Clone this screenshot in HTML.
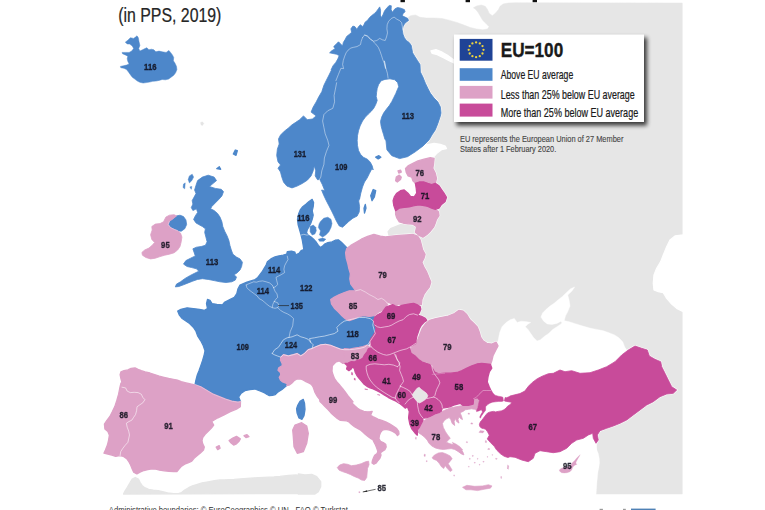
<!DOCTYPE html>
<html>
<head>
<meta charset="utf-8">
<title>Map</title>
<style>
html,body{margin:0;padding:0;background:#fff;}
body{width:765px;height:510px;overflow:hidden;position:relative;font-family:"Liberation Sans",sans-serif;}
svg{position:absolute;left:0;top:0;display:block;}
text{font-family:"Liberation Sans",sans-serif;}
.n{font-weight:bold;font-size:9.8px;fill:#10101c;text-anchor:middle;stroke:#10101c;stroke-width:0.35px;opacity:0.88;}
.lg{font-size:12.6px;fill:#1a1a1a;stroke:#1a1a1a;stroke-width:0.22px;}
.note{font-size:9.6px;fill:#444;stroke:#444;stroke-width:0.12px;}
</style>
</head>
<body>
<svg width="765" height="510" viewBox="0 0 765 510">
<defs>
<filter id="sh" x="-10%" y="-10%" width="125%" height="130%">
<feGaussianBlur stdDeviation="2"/>
</filter>
<filter id="tb" x="-5%" y="-20%" width="110%" height="140%"><feGaussianBlur stdDeviation="0.28"/></filter>
<filter id="soft" x="-2%" y="-2%" width="104%" height="104%">
<feGaussianBlur stdDeviation="0.5"/>
</filter>
</defs>
<rect x="0" y="0" width="765" height="510" fill="#ffffff"/>
<g filter="url(#soft)">
<polygon points="406,18.8 410.7,15.7 415.4,14.9 420.1,17.3 426.4,18 434.2,18 442.1,18.5 449.9,20.4 457.7,22.7 464,25.1 470.3,27.5 476.6,29 482.8,29.8 487.5,29 489.1,26.7 486,23.5 482.8,20.4 480.5,16.5 478.1,12.5 475.8,9.4 473.4,7.8 476.6,6 481.3,5 485.2,6.3 487.5,9.4 489.1,13.3 492.3,15.7 495.4,13.3 498.5,9.4 500.1,6.3 503.2,3.9 507.9,3.1 515,2.8 682.3,3 682.3,494 596,494 597,445 598,436 585,428 560,423 540,420 485,402 470,372 440,352 415,332 405,300 402,250 408,238 420,224 430,195 430,165 425,137 422,100 408,60 400,35 402,22" fill="#e6e6e6" stroke="#e6e6e6" stroke-width="0.5" stroke-linejoin="round"/>
<polygon points="388.1,231.7 390.6,228.7 395.6,226.7 400.5,224.7 408,223.8 412.9,224.2 416.7,226.7 415.4,231.2 419.2,232.9 419.2,236.7 389.3,236.7" fill="#e6e6e6" stroke="#e6e6e6" stroke-width="1.3" stroke-linejoin="round"/>
<polygon points="431,50.9 435.9,49.7 442.2,52.2 448.4,55.9 453.3,59.6 455.1,63.3 449.6,60.8 443.4,57.6 437.2,54.6 432.2,53.4" fill="#ffffff" stroke="#ffffff" stroke-width="1.3" stroke-linejoin="round"/>
<polygon points="404.2,153.5 414.2,149.2 419.2,146.8 426.6,144.8 434.1,143.5 440.3,144.3 445.2,146 446.5,148.5 441.5,149.7 436.5,153.5 432.8,157.7 424.1,159.2 414.2,162.7 406.7,166.6 399.3,167.1 396.8,159.7" fill="#ffffff" stroke="#ffffff" stroke-width="1.3" stroke-linejoin="round"/>
<polygon points="497.8,341.8 498.7,337.6 499.8,332.2 502,326.7 506.1,322.5 510.2,319.8 514.3,318.4 517.1,322.5 521.2,321.2 526.7,321.7 530.8,322.5 528,323.9 525.3,326.7 528,329.4 530.8,333.5 533.5,337.6 537.1,340.9 540.4,339.8 544.5,336.3 548.6,333.5 552.7,329.4 556.9,326.7 561,323.9 563.7,320.6 569.2,321.7 576.1,323.9 582.9,326.1 589.8,328 596.7,329.4 603.5,330.8 609,332.7 614.5,334.9 618.6,337.6 622.7,341.8 624.9,347.3 628.2,351.9 617.3,365.1 600.8,373.3 562.4,374.7 534.9,381.6 521.2,395.3 504.7,400.8 496.5,396.7 488.2,389.8 482.7,380.2 484.1,367.8 486.9,356.9 491,345.9 495.1,341.8" fill="#ffffff" stroke="#ffffff" stroke-width="0.4" stroke-linejoin="round"/>
<polygon points="501.8,395.7 506,395.7 506,400.9 512.3,401.4 512.3,405.1 506,410.3 491.4,413.5 480.9,423.9 475.7,423.9 475.7,411.4 484.6,403.5 501.8,399.9" fill="#ffffff" stroke="#ffffff" stroke-width="0.3" stroke-linejoin="round"/>
<polygon points="574.7,286.9 572,291 567.8,295.1 569.2,300.6 570,306.1 567.8,311.6 565.6,315.7 564,321.2 561.8,322.8 561,321.2 556.9,323.4 551.9,324.5 547.3,323.9 543.7,321.2 540.9,317.1 542.6,312.9 545.9,309.6 550,306.1 554.1,303.3 558.2,299.8 562.4,296.5 566.5,292.4 570.6,288.8" fill="#ffffff" stroke="#ffffff" stroke-width="0.4" stroke-linejoin="round"/>
<polygon points="683.3,235 675,236 670,240 666.7,246.7 663.3,255 660.7,261.7 656.7,268.3 654,275 653.3,283.3 654,290 658.3,291.7 663.3,292.7 666.7,298.3 671.7,304 676.7,308.3 683.3,311.7" fill="#ffffff" stroke="#ffffff" stroke-width="1.3" stroke-linejoin="round"/>
<polygon points="572.6,440 595.2,444.1 595.6,445.5 596.6,449.2 598.4,453.8 599.3,458.4 599.5,463 598.9,467.6 597.9,472.2 597.5,476.8 597,481.4 596.6,487 596.1,494.3 572.6,494.3" fill="#ffffff" stroke="#ffffff" stroke-width="0.3" stroke-linejoin="round"/>
<polygon points="123.5,494 125.1,490.9 127.5,487 129.8,483 132.2,479.1 135.3,477.5 138.4,479.1 140,482.3 142,485.4 144.7,487.7 148.6,489.3 153.3,490.1 158,490.6 162.7,491.7 167.5,492.8 173.7,493.7 178.4,493.7 181.6,492.5 184.7,490.1 188.6,487.7 192.5,485.9 197.3,484.3 202,483 208.2,481.8 214.5,480.7 220,479.9 224.1,479.9 234.1,479.4 244,478.6 253.9,477.9 263.9,477.4 273.8,476.9 280,476.4 288.7,475.4 296.1,474.9 299.9,476.1 301.1,479.9 299.9,484.8 298.1,489.8 298.6,493.5" fill="#e6e6e6" stroke="#e6e6e6" stroke-width="1.3" stroke-linejoin="round"/>
<polygon points="298.3,474 305,475 311.7,474.3 316.7,476.7 320.7,481.7 320.7,486.7 318.3,491.7 315,494 298.3,494" fill="#e6e6e6" stroke="#e6e6e6" stroke-width="1.3" stroke-linejoin="round"/>
<polygon points="125.3,42.2 127.8,40.3 130.4,37.7 133.6,38.4 135.5,37.1 137,35.8 138.3,37.7 139,41.6 139.9,45.4 138.7,48.6 139.9,51.1 142.5,49.8 145,48.6 146.9,47.7 148.9,49.8 151.4,49.2 153.9,49.8 155.9,51.8 159,51.1 162.2,51.8 166.1,52.4 168.9,50.5 170.5,52.4 172.4,54.9 173.7,57.5 173.4,60.7 175,63.2 176.5,66.4 176.9,69.6 175.6,72.8 173.7,75.3 171.1,77.2 168.6,79.1 165.4,79.8 162.2,79.5 159,80.4 155.9,81.1 152.7,81.3 149.5,82.1 146.3,82.6 143.1,83 139.9,82.3 137.4,81.1 134.8,79.1 132.3,77.2 130.4,74.7 128.5,72.1 126.6,69.6 124,68.3 120.8,67.7 120.4,66.4 123.4,65.8 126.6,65.1 129.1,63.9 127.8,61.3 127.2,58.8 127.8,56.2 125.3,54.9 122.5,53.7 122.1,52.4 125.3,52.4 129.1,52.4 131.7,51.1 133.6,48.6 132.3,46 129.7,44.1 127.2,43.9" fill="none" stroke="#ffffff" stroke-opacity="0.75" stroke-width="1.8" stroke-linejoin="round"/>
<polygon points="331,70 333,65.8 335.8,62.4 337.8,59 339.2,55.6 336.5,54.2 333,53.5 329.6,52.8 331.7,50.8 335.1,48.7 333.7,46.6 335.8,44.6 338.5,41.8 340.6,43.9 342.6,46 343.3,42.5 345.4,39.1 346.7,36.4 349.5,34.3 351.6,32.2 350.9,28.8 352.9,26.1 355,26.7 357,29.5 358.4,26.7 360.5,24.7 362.5,26.7 363.9,24.7 365.3,21.9 367.3,20.6 369.4,17.8 371.4,15.8 374.2,13.7 376.2,11.7 378.3,8.9 379.7,6.9 380.6,10.3 380.4,15.1 381.5,17.8 383.1,14.4 384.5,11 387.2,7.5 389.3,5.5 391.3,5.8 391.1,9.6 392.4,12.3 394.8,8.9 397.5,7.5 400.9,8.2 404.4,9.6 405,11.7 403,13.7 402.3,15.8 405,17.1 407.8,18.5 408.5,20.6 406.4,21.9 404.4,24 403,26.7 402.3,30.2 403,34.3 404.4,37.7 406.4,40.5 409.2,42.5 411.2,45.3 411.9,48.7 412.6,52.8 414.7,56.2 417.4,60.4 420,64.5 420.4,72 422.9,77 425.4,83.2 427.8,88.2 430.3,93.1 434.1,98.1 437.8,101.8 440.3,106.8 441,113 440.3,116.2 437.8,123.7 435.3,129.9 432.1,134.8 429,140 423.1,145.9 415.3,151.8 407.5,156.7 399.6,158.6 391.8,155.7 386.9,149.8 385.9,140 385,139.6 383.6,134.7 382.1,129.8 381.1,125.9 380.5,121.4 381.7,117.1 383.6,113.1 386.4,109.2 389.5,105.3 391.9,101.4 393.8,97.5 395.8,93.5 397.4,89.6 398.7,86.7 397.7,82.7 394.8,79.8 389.9,78.8 385,79.4 381.1,80.8 378.5,84.7 377.2,88.6 376.6,92.5 376.2,96.5 377.2,100.4 375.8,104.3 373.8,108.2 371.3,111.2 368.3,114.1 365.4,117.1 362.5,121 360.1,125.9 358.5,130.8 357.5,135.7 357.2,140.6 357.5,145.5 358.5,150.4 360.5,154.3 363.4,157.3 367.4,159.2 370.3,162.2 372.3,166.1 373.2,170 372,168.4 369.5,173.3 367,178.3 364.5,182 362.5,187 360.8,193.2 359.5,199.4 359.2,196.3 358.8,201.5 359.6,206.7 359.2,212 357.1,216.1 352.9,218.2 348.8,221.4 345.6,224.5 342.5,227.2 339.3,226 336.6,221.4 334.1,216.1 331.6,210.9 328.9,205.7 326.2,200.5 323.7,195.2 321.6,190 324.8,190.7 322.3,184.5 319.8,179.5 317.5,179.7 315.2,175.9 315.7,170.8 314.2,165.7 313.2,170.8 311.1,175.9 307.3,180.2 302.2,183.5 297.1,186.1 292,187.9 286.9,186.1 283.6,182.2 281.8,177.1 280.5,172 278,168.2 280.5,164.9 278,161.8 276.7,155.5 277.4,149.1 279.2,144 278.5,138.9 280.5,135.1 284.3,131.2 288.2,128.2 292,124.8 295.8,122.3 299.6,119.7 303.5,115.9 307.3,119.7 312.4,119 316.2,115.9 311.1,112.1 313.2,107 316.2,101.9 318.8,96.8 321.8,91.7 323.9,85.3 326.4,80.2 329,75.1 331.5,70" fill="none" stroke="#ffffff" stroke-opacity="0.75" stroke-width="2.1" stroke-linejoin="round"/>
<polygon points="373.2,189.5 375.7,190.7 374.4,196.9 372,200.7 370.7,195.7" fill="none" stroke="#ffffff" stroke-opacity="0.75" stroke-width="2.6" stroke-linejoin="round"/>
<polygon points="375.7,157.2 378.9,155.7 380.9,157.2 378.2,158.9" fill="none" stroke="#ffffff" stroke-opacity="0.75" stroke-width="2.6" stroke-linejoin="round"/>
<polygon points="364,208.1 365.3,204.4 366,208.1 364.5,213.1" fill="none" stroke="#ffffff" stroke-opacity="0.75" stroke-width="2.6" stroke-linejoin="round"/>
<polygon points="233.3,154 235.3,150 237.3,150.7 236,155.3" fill="none" stroke="#ffffff" stroke-opacity="0.75" stroke-width="2.6" stroke-linejoin="round"/>
<polygon points="216.7,168.7 219.3,166.7 220.7,169.3" fill="none" stroke="#ffffff" stroke-opacity="0.75" stroke-width="2.6" stroke-linejoin="round"/>
<polygon points="197.6,180.6 202.4,177.1 208.2,175.2 214.1,177.1 216.5,180.6 212.9,183.6 209.4,186.5 215.3,188.4 221.2,189.3 223.5,191.6 221.9,195.9 218.8,199.4 215.3,202.9 211.8,206.5 210.6,208.8 214.1,210.5 217.6,213.5 220,217.1 221.9,221.8 222.8,226.5 224.7,231.2 227.1,235.9 228.9,240.6 229.9,245.3 231.3,250 232.9,254.2 236.5,257.1 240,258.9 242.4,262.2 241.6,266.5 240,270 236.9,273.1 234.1,274.7 236.5,277.1 235.3,280.1 231.8,281.8 225.9,282.5 220,281.8 214.1,280.6 208.2,279.4 202.4,278.7 197.6,279.4 192.9,281.1 188.2,282.9 183.5,284.8 178.8,286.5 175.3,286.9 176.5,284.1 180.5,281.8 184.7,278.7 189.4,275.9 194.1,273.5 198.8,271.2 196.5,268.8 191.8,267.6 187.1,266.5 183.5,264.1 185.9,260.6 190.6,258.2 195.3,255.9 194.1,252.4 192.9,248.8 196.5,247.2 201.2,246.5 205.4,245.3 207.1,241.8 205.9,237.1 204.7,232.4 205.4,228.8 202.4,226.5 198.8,224.6 196,222.9 193.6,219.4 195.3,215.9 197.6,212.4 196.5,208.8 192.9,210.5 191.3,207.6 192.9,204.1 192.2,200.6 194.1,197.1 196,193.5 194.6,190 196,185.3" fill="none" stroke="#ffffff" stroke-opacity="0.75" stroke-width="2.1" stroke-linejoin="round"/>
<polygon points="189.4,175.9 192.2,174.2 193.6,177.1 191.8,180.6 189.4,182.9 188.2,179.4" fill="none" stroke="#ffffff" stroke-opacity="0.75" stroke-width="1.8" stroke-linejoin="round"/>
<polygon points="183.5,184.1 185.2,182.9 184.7,188.8 183.1,187.6" fill="none" stroke="#ffffff" stroke-opacity="0.75" stroke-width="1.8" stroke-linejoin="round"/>
<polygon points="189.9,186.9 191.8,186.5 191.3,189.3" fill="none" stroke="#ffffff" stroke-opacity="0.75" stroke-width="1.8" stroke-linejoin="round"/>
<polygon points="169.4,221.3 172.9,218.9 176.5,215.9 180,215.2 183.5,216.6 185.9,219.9 186.6,224.6 184.7,228.8 181.2,231.2 177.6,230.7 174.1,229.3 170.6,227.6 168.2,224.6" fill="none" stroke="#ffffff" stroke-opacity="0.75" stroke-width="2.1" stroke-linejoin="round"/>
<polygon points="312.2,199.4 313.6,202.5 313.2,206.7 312.2,210.9 313.2,215.1 312.2,219.3 310.7,223.5 309,226.6 307.3,229.7 306.5,232.9 308,235 311.1,237.1 313.6,239.2 316.3,242.3 318.4,245.4 320.5,247.5 322.6,246.1 324.7,244 327.8,242.7 332,241.9 335.2,240.2 338.3,239.8 341.4,242.3 344.6,245.4 347.7,248.6 347.3,252.7 347.9,258 349.4,263.2 350.4,268.4 352.1,273.7 351.5,278.9 352.5,284.1 355,288.3 355.6,290.8 349.3,290.8 344.4,292.6 339.4,294.5 334.4,297 330.7,299.5 331.5,304 334.4,308.2 338.2,311.9 341.9,315.7 345.6,318.9 349.3,320.6 354.3,318.9 359.3,316.4 364.2,315.7 369.2,316.4 374.2,315.7 373.5,321 374.8,325 376.1,328.3 375.5,330.9 374.4,333.5 372.9,336.1 370.9,338.8 370,342 367.8,344.8 364.1,347.3 359.2,348.5 354.2,349.2 349.2,349.7 344.2,349.7 340.5,349.2 335.6,347.3 330.6,345.3 325.6,344.3 320.7,344.8 315.7,346.8 312,348.5 308.2,349.7 304.5,353.5 300.8,355.9 297.1,353.5 293.3,354.7 288.4,355.9 283.4,354.7 280.9,357.2 280.4,360 282,363.1 282.4,365.5 278.8,367.8 278,370.2 280.4,372.5 280.8,374.9 279.2,377.3 280.4,380 282.7,382 285.9,383.1 287.5,384.3 286.7,385.5 284.3,387.5 282,389.4 279.6,391 277.3,392.5 275.3,394.5 272.5,395.3 269.4,395.7 267.1,394.5 264.7,392.9 262.4,391.8 260,391 254.8,389 249.9,389.5 244.9,390.7 241.2,393.2 238.7,396.9 240.5,401.7 238,402.2 231.8,401.2 225.6,399.2 219.4,396.7 213.2,394.2 207,390.5 200.8,386.8 195.1,384.3 195.8,380.6 197.1,375.6 199,370.7 200.8,365.7 202.5,360.7 204,355.8 205,350.8 203.3,345.8 200.8,340.8 197.6,335.9 195.8,330.9 193.3,327.2 189.6,323.5 185.9,321 182.2,318.5 179.2,314.8 177.7,311 180.9,309.3 187.1,307.8 193.3,308.6 199.5,309.3 204.5,310.3 207.5,308.6 206.5,303.6 207.5,299.4 210,300.4 212,303.6 216.9,304.3 222.4,304.8 224.4,302.4 229.3,299.9 234.3,297.4 236.8,293.7 238,288.7 240,285 243.4,283.6 246.9,282.2 251,280.9 255.1,279.5 257.8,277.4 259.9,274.7 262,272 264,268.5 266.1,265.1 267.4,261.7 270.9,258.9 275,256.9 279.1,255.8 283.2,255.2 286.7,254.1 287.3,251.6 291.5,251.1 294.9,252.1 295.6,254.8 299,253.4 301.1,250.7 303.8,249.6 303.2,245.4 302.3,240.2 301.1,235 299.6,229.7 298.1,224.5 297.5,219.3 298.6,214.1 300.2,209.9 302.7,206.7 305.9,204.2 309,201.5" fill="none" stroke="#ffffff" stroke-opacity="0.75" stroke-width="2.6" stroke-linejoin="round"/>
<polygon points="310.1,226.6 313.2,225.1 315.7,227.2 316.3,230.8 314.9,233.9 312.2,235 310.1,231.8" fill="none" stroke="#ffffff" stroke-opacity="0.75" stroke-width="1.8" stroke-linejoin="round"/>
<polygon points="320.5,221.4 323.7,218.2 327.8,217.2 331,219.3 332,223.5 331,227.6 328.9,231.8 325.8,235 322.6,237.1 319.5,235 320.5,230.8 318.4,227.6 319.1,223.9" fill="none" stroke="#ffffff" stroke-opacity="0.75" stroke-width="1.8" stroke-linejoin="round"/>
<polygon points="318.4,239.2 322.6,238.1 325.8,239.2 323.7,241.2 319.5,241.2" fill="none" stroke="#ffffff" stroke-opacity="0.75" stroke-width="1.8" stroke-linejoin="round"/>
<polygon points="297.6,405.6 300,401.4 303.3,399.4 304.5,403.1 305,409.3 304,415.6 302,419.3 299,418 297.1,413.1 296.6,408.8" fill="none" stroke="#ffffff" stroke-opacity="0.75" stroke-width="2.6" stroke-linejoin="round"/>
<polygon points="151.8,226.5 155.3,224.1 160,223.6 163.5,221.8 165.9,217.1 169.4,215.2 174.1,214.7 176.5,215.9 172.9,218.9 169.4,221.3 168.2,224.6 170.6,227.6 174.1,229.3 177.6,230.7 180.5,233.1 181.9,237.1 181.2,241.8 180,246.5 177.6,250 174.1,252.8 169.4,254.2 164.7,255.2 160,256.6 155.3,258.2 150.6,258.9 145.9,257.5 142.4,255.2 141.9,252.4 144.7,250 148.9,248.1 152.2,245.3 154.6,242.5 151.8,239.4 150.6,234.7 152.2,230" fill="none" stroke="#ffffff" stroke-opacity="0.75" stroke-width="2.1" stroke-linejoin="round"/>
<polygon points="120.1,374.6 120.9,371.9 124,370.7 127.9,369.9 131.1,368.3 135,367.9 138.1,369.4 141.3,370.7 145.2,371.9 149.9,373 154.6,374.6 159.3,376.2 164,377.3 168.7,378.5 173.4,379.3 177.4,380.1 181.3,381.7 186,382.9 190.7,384 194.6,384.8 200.8,386.8 207,390.5 213.2,394.2 219.4,396.7 225.6,399.2 231.8,401.2 238,402.2 240.5,401.7 240.3,406.6 236.5,409.1 230.3,411.6 224.1,414.8 217.9,417.8 211.7,421.5 213.7,425 211.4,428.1 208.2,431.3 205.1,434.4 202.7,437.5 202,440.7 202.7,443.8 204.3,447 203.5,450.1 200.4,452.9 197.3,455.6 194.1,458.3 191.8,461.1 188.6,462.6 184.7,464.2 181.6,466.1 179.2,468.9 176.9,471.7 173.7,471.7 169,471.3 164.3,470.8 159.6,470.2 155.7,469.2 151.8,468.9 147.8,469.7 143.9,470.5 140,472.1 136.9,473.9 133.7,472.1 132.2,468.9 130.6,465 129,461.9 126.7,458.7 123.5,456.4 119.6,455.6 115.7,456.4 111.8,455.1 107.8,454 103.9,453.2 105.4,450.1 107.4,445.1 108.6,440.1 109.4,435.2 107.9,431.4 104.9,428.9 104.4,424 106.9,420.3 109.9,416.5 112.4,411.6 114.8,406.6 116.8,400.4 118.6,394.2 119.8,388 121,383 122,382.5 120.9,378.5" fill="none" stroke="#ffffff" stroke-opacity="0.75" stroke-width="2.6" stroke-linejoin="round"/>
<polygon points="229.1,440.6 232.8,438.1 236.5,436.4 240.3,438.9 239,441.4 236.5,443.8 233.6,445.1 231.1,443.1" fill="none" stroke="#ffffff" stroke-opacity="0.75" stroke-width="2.6" stroke-linejoin="round"/>
<polygon points="244,435.7 247,434.7 249,436.6 246,437.6" fill="none" stroke="#ffffff" stroke-opacity="0.75" stroke-width="2.6" stroke-linejoin="round"/>
<polygon points="216.2,447.1 219.2,445.6 220.1,448.1 217.7,449.6" fill="none" stroke="#ffffff" stroke-opacity="0.75" stroke-width="2.6" stroke-linejoin="round"/>
<polygon points="286.7,385.5 287.5,384.3 285.9,383.1 282.7,382 280.4,380 279.2,377.3 280.8,374.9 280.4,372.5 278,370.2 278.8,367.8 282.4,365.5 282,363.1 280.4,360 280.9,357.2 283.4,354.7 288.4,355.9 293.3,354.7 297.1,353.5 300.8,355.9 304.5,353.5 308.2,349.7 312,348.5 315.7,346.8 320.7,344.8 325.6,344.3 330.6,345.3 335.6,347.3 340.5,349.2 344.2,349.7 343.8,353.5 344.7,358.4 345.5,362.2 343,363.4 339.3,360.9 335.6,362.2 332.3,365.9 332,371.2 333.1,375.1 334.7,379 337.1,382.2 339.9,385.3 342.5,388.4 345.2,392 347.7,395.5 350.4,398.6 353.1,401.8 351.4,402.4 354.5,405.5 357.6,408.2 360.8,410.2 363.9,411.4 367.1,411.8 370.2,411.6 372.2,411.4 371.4,413.3 370.6,415.3 373.3,416.9 376.5,418.4 377.8,419.1 381.8,420.4 385.7,421.9 389.6,423.8 393.5,426.2 396.7,428.5 398.7,431.4 399,434 397.5,435.6 395.6,433.2 392.7,431.4 389.6,430.1 385.7,429.3 382.5,430.1 380.5,432.5 379.4,435.6 378.9,438.7 380.5,441.4 383.3,442.6 385.7,444.2 386.2,447 384.9,449.7 382.5,451.3 380.5,452.8 381,455.2 379.9,458.3 377.8,460.7 376.3,463 373.9,464.3 372,463 372.4,460.7 373.6,457.5 374.7,455.2 377.1,453.6 377.8,451.3 376.7,448.1 375.5,445 373.9,441.9 372.4,438.7 371.8,439.2 368.6,436.9 365.5,434.5 363.1,432.2 360.8,430.2 357.6,428.4 354.5,426.7 351.4,424.3 349,422 346.7,420.8 343.5,420.5 340.4,420.4 337.3,418.4 334.1,415.7 331,412.9 327.8,409.4 324.7,406.3 322.4,403.9 320,401.6 319.6,399.2 317.6,396.9 316.1,394.5 314.9,392.2 314.1,389.8 313.3,387.5 312.2,385.5 310.6,383.9 308.2,382.7 305.9,381.6 303.5,380.2 301.2,379.2 298.8,378.8 296.5,379.2 294.5,380.4 292.9,382 291.4,383.5 289,385.1" fill="none" stroke="#ffffff" stroke-opacity="0.75" stroke-width="2.6" stroke-linejoin="round"/>
<polygon points="337.3,467.6 339.6,465.1 343.5,463.7 347.5,464.3 351.4,465.7 356.3,465.1 361.2,463.7 365.5,461.8 368.6,461.2 369,464.7 367.5,468.6 367.1,472.9 366.7,477.5 364.7,480.4 361.6,480 358.2,478 354.3,476.5 350.4,474.5 346.5,472.9 342.5,471.6 339.2,470.2" fill="none" stroke="#ffffff" stroke-opacity="0.75" stroke-width="2.1" stroke-linejoin="round"/>
<polygon points="295,425 301.7,422.7 306.7,426 308.3,433.3 306.7,443.3 303.3,451.7 297.3,453.3 294,446.7 293.3,436.7 292.7,430" fill="none" stroke="#ffffff" stroke-opacity="0.75" stroke-width="2.6" stroke-linejoin="round"/>
<polygon points="358.6,491.8 359.8,491.4 360.2,492.5 359,492.9" fill="none" stroke="#ffffff" stroke-opacity="0.75" stroke-width="1.5" stroke-linejoin="round"/>
<polygon points="354,288.3 350.8,284.1 349.8,278.9 350.4,273.7 348.8,268.4 347.7,263.2 346.2,258 345.6,252.7 346.7,248.6 350.8,245.4 356.1,242.3 361.3,239.2 367.6,236.4 373.9,234.3 380.4,236.2 385.4,236.9 391.6,236.2 399,235.4 406.5,234.9 412.7,234.4 417.6,236.2 420.1,239.9 421.4,244.9 422.6,249.8 425.1,254.3 423.9,258.5 421.9,262.3 423.9,267.2 426.8,272.2 428.8,277.2 430.8,282.1 429.3,287.1 426.3,290.8 423.9,294.5 421.9,299.5 421.4,304.5 417.6,304 412.7,303.2 407.7,304.5 402.7,305.7 399,304 395.3,305 390.3,303.2 385.4,300.8 381.6,298.3 377.9,299.5 374.2,297 369.2,294.5 365.5,292.1 360.5,289.6 355.6,290.8" fill="none" stroke="#ffffff" stroke-opacity="0.75" stroke-width="2.6" stroke-linejoin="round"/>
<polygon points="330.7,299.5 334.4,297 339.4,294.5 344.4,292.6 349.3,290.8 355.6,290.8 360.5,289.6 365.5,292.1 369.2,294.5 374.2,297 377.9,299.5 381.6,298.3 385.4,300.8 387.8,304 385.4,308.2 381.6,310.7 377.9,312.4 374.2,315.7 369.2,316.4 364.2,315.7 359.3,316.4 354.3,318.9 349.3,320.6 345.6,318.9 341.9,315.7 338.2,311.9 334.4,308.2 331.5,304" fill="none" stroke="#ffffff" stroke-opacity="0.75" stroke-width="2.6" stroke-linejoin="round"/>
<polygon points="344.2,348.6 349.7,349.1 354.4,348.2 359.1,347.4 363,346.6 367,345.2 369.8,347.5 367,351.8 364.6,354.9 363,358 360.7,359.6 357.5,360.4 354.4,362 351.3,361.6 348.1,363.2 345,363.5 344.5,358.8 343.7,354.1" fill="none" stroke="#ffffff" stroke-opacity="0.75" stroke-width="2.6" stroke-linejoin="round"/>
<polygon points="409.8,349.6 413.5,345.9 417.3,340.9 419.7,334.7 422.2,328.5 425.9,323.5 429.7,320.3 435.9,318.6 442.1,317.3 448.3,316.1 454.5,313.6 459,310.4 463.2,311.1 466.9,314.8 469.9,319.8 473.9,323.5 477.4,327.3 479.3,332.2 480.6,337.2 483.1,340.9 486.8,343.4 491.8,344.1 496.2,342.2 498,345.9 495.5,350.8 493,355.8 491.8,360.8 490.5,364.5 486.8,364 481.8,363.3 476.9,364 471.9,365.8 466.9,368.2 462,370.7 457,372.5 450.8,373.2 444.6,373.2 438.4,373.9 434.6,372 432.2,368.2 429.7,364.5 425.9,363.3 422.2,362 418.5,359.5 414.8,355.8 411,353.3" fill="none" stroke="#ffffff" stroke-opacity="0.75" stroke-width="2.6" stroke-linejoin="round"/>
<polygon points="405.5,168.4 408,165.9 412.9,163.4 417.9,160.9 424.1,159.2 430.3,157.7 434.1,158.4 433.6,163.4 432.8,168.4 435.3,173.3 436.5,178.3 435.3,183.3 431.6,184.5 427.8,183.3 424.1,182 419.2,182 415.4,183.3 412.9,180.8 411.7,177.1 408,175.8 406.2,172.1" fill="none" stroke="#ffffff" stroke-opacity="0.75" stroke-width="2.6" stroke-linejoin="round"/>
<polygon points="396.3,177.1 399.3,175.1 401.3,177.1 400.5,179.5 397.3,182 395.6,180.8" fill="none" stroke="#ffffff" stroke-opacity="0.75" stroke-width="2.6" stroke-linejoin="round"/>
<polygon points="398,170.8 400.5,170.1 401.3,172.1 398.8,173.1" fill="none" stroke="#ffffff" stroke-opacity="0.75" stroke-width="2.6" stroke-linejoin="round"/>
<polygon points="395.6,210.6 399.3,208.1 409.2,206.9 419.2,204.9 427.8,206.4 435.3,209.3 438.5,211.8 439,215.6 436.5,219.3 435.3,223 433.6,227.2 430.3,231.2 426.6,234.7 422.9,237.2 419.2,235.4 415.4,232.2 416.7,226.7 412.9,224.2 408,223.8 403,223 399.3,221.8 396.8,218 395.6,214.3" fill="none" stroke="#ffffff" stroke-opacity="0.75" stroke-width="2.6" stroke-linejoin="round"/>
<polygon points="424.7,420.3 428.4,417.8 433.4,415.3 439.6,412.8 444.6,410.3 450.8,407.8 457,406.6 463.2,405.4 468.2,405.4 473.1,404.1 473.6,398.6 477.3,398.3 479.4,400.4 478.8,402.5 478.3,405.1 477.8,407.7 476.7,410.3 474.6,409.3 471.5,408.8 468.4,409.3 465.2,409.8 463.1,411.4 460,412.7 461.4,415.7 462.5,419.6 460.6,418.6 459,416.7 458,419.6 459,423.1 456.7,421.6 455.5,418.6 454.1,421.6 454.7,425.5 452.2,423.5 450.8,419.6 449.2,417.6 446.9,418.6 444.3,420.6 442.4,423.5 443.3,427.5 445.3,431.4 447.6,434.9 450.2,438.2 448.2,440.2 446.3,442.2 449.2,443.5 453.1,444.7 457.1,446.7 460.6,449 462.9,452 463.9,454.9 461.4,453.9 458,451.4 454.7,449.4 451.2,448.6 447.3,449 443.3,449.4 439.4,449 435.5,448 432,446.1 429.2,443.5 427.3,440.2 424.7,437.3 421.8,434.9 418.8,432.9 418.2,432.4 419.4,428.4 420.8,424.5 422.7,420.6" fill="none" stroke="#ffffff" stroke-opacity="0.75" stroke-width="2.1" stroke-linejoin="round"/>
<polygon points="432,457.8 434.5,454.9 438.4,452.9 442.4,452.5 446.3,453.9 450.2,455.9 452.2,458.8 450.2,461.2 448.2,463.7 450.2,466.7 452.2,470.2 450.2,471.6 447.3,468.6 445.3,465.7 443.7,468.6 441.4,466.7 439,463.1 436.5,460.4 433.5,459.2" fill="none" stroke="#ffffff" stroke-opacity="0.75" stroke-width="1.9" stroke-linejoin="round"/>
<polygon points="452.2,442.2 456.1,444.1 460,446.7 462.9,450 461.4,450.6 458,448.6 454.1,446.1" fill="none" stroke="#ffffff" stroke-opacity="0.75" stroke-width="1.7" stroke-linejoin="round"/>
<polygon points="462.5,487.3 466.9,485.3 474.7,486.3 482.5,485.9 488.4,484.7 492,485.9 490.4,488.2 484.5,489.2 477.6,490.6 470.8,489.8 465.9,489.8" fill="none" stroke="#ffffff" stroke-opacity="0.75" stroke-width="1.9" stroke-linejoin="round"/>
<polygon points="559.3,469.9 561.1,468.5 563.4,467.6 566.2,467.2 568.9,466.7 571.2,464.4 572.6,462.6 574.5,460.7 576.8,458 579.1,455.7 580,454.7 579.5,456.1 577.7,458.9 576.3,461.6 575.8,463 576.8,464.4 575.4,464.9 574,465.8 572.6,467.6 571.7,469.9 569.9,471.8 567.1,472.7 564.3,473 561.6,472.7 559.7,471.3" fill="none" stroke="#ffffff" stroke-opacity="0.75" stroke-width="1.6" stroke-linejoin="round"/>
<polygon points="478.8,432.5 480.2,430.4 484.3,431.1 482.9,433.1" fill="none" stroke="#ffffff" stroke-opacity="0.75" stroke-width="1.5" stroke-linejoin="round"/>
<polygon points="485.1,442.3 485.5,440.2 486.7,440.9 486.3,442.9" fill="none" stroke="#ffffff" stroke-opacity="0.75" stroke-width="1.5" stroke-linejoin="round"/>
<polygon points="487.6,449.4 488.2,448.3 490,448.7 489.4,449.7" fill="none" stroke="#ffffff" stroke-opacity="0.75" stroke-width="1.5" stroke-linejoin="round"/>
<polygon points="507.3,468.2 507.6,464.7 508.8,465.9 508.4,469.4" fill="none" stroke="#ffffff" stroke-opacity="0.75" stroke-width="1.5" stroke-linejoin="round"/>
<polygon points="495.3,459.1 495.8,458.2 497.3,458.5 496.8,459.4" fill="none" stroke="#ffffff" stroke-opacity="0.75" stroke-width="1.5" stroke-linejoin="round"/>
<polygon points="500.7,478.1 500.9,476.1 501.7,476.8 501.4,478.8" fill="none" stroke="#ffffff" stroke-opacity="0.75" stroke-width="1.5" stroke-linejoin="round"/>
<polygon points="467.8,414.1 468.3,412.9 469.8,413.3 469.3,414.5" fill="none" stroke="#ffffff" stroke-opacity="0.75" stroke-width="1.5" stroke-linejoin="round"/>
<polygon points="470.6,423.9 471.2,422.7 472.9,423.1 472.4,424.3" fill="none" stroke="#ffffff" stroke-opacity="0.75" stroke-width="1.5" stroke-linejoin="round"/>
<polygon points="466.1,442.5 466.5,441.4 467.6,441.8 467.3,442.9" fill="none" stroke="#ffffff" stroke-opacity="0.75" stroke-width="1.5" stroke-linejoin="round"/>
<polygon points="415.3,438.9 415.6,436.9 416.5,437.5 416.2,439.6" fill="none" stroke="#ffffff" stroke-opacity="0.75" stroke-width="1.5" stroke-linejoin="round"/>
<polygon points="423.9,456 424.3,453.9 425.5,454.6 425.1,456.7" fill="none" stroke="#ffffff" stroke-opacity="0.75" stroke-width="1.5" stroke-linejoin="round"/>
<polygon points="426.1,461.6 426.4,460.4 427.3,460.8 427,462" fill="none" stroke="#ffffff" stroke-opacity="0.75" stroke-width="1.5" stroke-linejoin="round"/>
<polygon points="472,456.2 472.4,455.3 473.5,455.6 473.1,456.5" fill="none" stroke="#ffffff" stroke-opacity="0.75" stroke-width="1.5" stroke-linejoin="round"/>
<polygon points="477.1,459.1 477.4,458.2 478.2,458.5 477.9,459.4" fill="none" stroke="#ffffff" stroke-opacity="0.75" stroke-width="1.5" stroke-linejoin="round"/>
<polygon points="473.9,463 474.3,462.3 475.5,462.5 475.1,463.2" fill="none" stroke="#ffffff" stroke-opacity="0.75" stroke-width="1.5" stroke-linejoin="round"/>
<polygon points="479,465 479.3,464.2 480.2,464.5 479.9,465.2" fill="none" stroke="#ffffff" stroke-opacity="0.75" stroke-width="1.5" stroke-linejoin="round"/>
<polygon points="469.2,459.2 469.5,458 470.4,458.4 470.1,459.6" fill="none" stroke="#ffffff" stroke-opacity="0.75" stroke-width="1.5" stroke-linejoin="round"/>
<polygon points="482.7,462 483.1,461.3 484.3,461.5 483.9,462.3" fill="none" stroke="#ffffff" stroke-opacity="0.75" stroke-width="1.5" stroke-linejoin="round"/>
<polygon points="468.2,466.9 468.5,466.2 469.4,466.4 469.1,467.2" fill="none" stroke="#ffffff" stroke-opacity="0.75" stroke-width="1.5" stroke-linejoin="round"/>
<polygon points="486.9,457.1 487.2,456.4 488,456.6 487.7,457.4" fill="none" stroke="#ffffff" stroke-opacity="0.75" stroke-width="1.5" stroke-linejoin="round"/>
<polygon points="453.6,475.9 453.9,474.7 454.6,475.1 454.4,476.3" fill="none" stroke="#ffffff" stroke-opacity="0.75" stroke-width="1.5" stroke-linejoin="round"/>
<polygon points="491.8,455.1 492.1,454.4 492.9,454.7 492.6,455.4" fill="none" stroke="#ffffff" stroke-opacity="0.75" stroke-width="1.5" stroke-linejoin="round"/>
<polygon points="394.3,196.9 396.8,193.2 400.5,190.7 404.2,190 408,193.2 410.5,196.4 414.2,196.9 416.7,193.2 416.2,188.2 415.4,183.3 419.2,182 424.1,182 427.8,183.3 431.6,184.5 435.3,183.3 439,185.8 441.5,189.5 444,193.2 446.5,197.4 445.2,201.4 441.5,204.4 439,208.1 435.3,209.3 431.6,208.1 427.8,206.4 424.1,205.6 419.2,204.9 414.2,205.6 409.2,206.9 404.2,207.4 399.3,208.1 395.6,210.6 393.8,205.6 393.1,200.7" fill="none" stroke="#ffffff" stroke-opacity="0.75" stroke-width="2.6" stroke-linejoin="round"/>
<polygon points="373.5,321 374.8,317.1 378.1,314.5 382,312.5 384,309.9 386,307.2 389.3,305.9 392.6,304.6 395.2,305.9 399.1,306.6 401.8,305.3 405.7,304.6 409.6,303.9 413.6,303.3 416.9,304.6 420.2,306.6 420.8,309.2 419.5,312.5 417.5,315.1 413.6,313.8 409.6,314.5 406.4,316.4 403.1,319.7 399.1,321 395.2,323 391.9,325 388.6,326.3 384.7,326.9 380.7,327.6 377.5,326.9 374.8,325" fill="none" stroke="#ffffff" stroke-opacity="0.75" stroke-width="2.6" stroke-linejoin="round"/>
<polygon points="374.8,325 377.5,326.9 380.7,327.6 384.7,326.9 388.6,326.3 391.9,325 395.2,323 399.1,321 403.1,319.7 406.4,316.4 409.6,314.5 413.6,313.8 417.5,315.1 421.5,316.4 425.4,318.4 426.7,320.4 424.1,322.3 421.5,325 419.5,328.3 418.2,332.2 416.9,336.1 416.2,339.4 415.6,343.4 412.9,345.3 409.6,347.3 406.4,348.9 403.1,349.7 399.8,350.6 396.5,351.9 393.2,353.2 389.9,354.5 386.6,355.2 383.4,354.5 380.1,353.2 377.5,351.9 374.8,349.9 372.2,348 370.5,345.3 370,342 370.9,338.8 372.9,336.1 374.4,333.5 375.5,330.9 376.1,328.3" fill="none" stroke="#ffffff" stroke-opacity="0.75" stroke-width="2.6" stroke-linejoin="round"/>
<polygon points="368.5,348.6 370.9,347.8 374,350.2 377.2,352.5 381.1,354.1 385.8,355.4 390.5,354.9 394.4,353.8 394.9,348.4 402.4,345.9 409.3,347.6 411,353.3 414.8,355.8 418.5,359.5 422.2,362 425.9,363.3 429.7,364.5 432.2,368.2 434.6,372 438.4,373.9 444.6,373.2 450.8,373.2 457,372.5 462,370.7 466.9,368.2 471.9,365.8 476.9,364 481.8,363.3 486.8,364 490.5,364.5 491.8,368.2 489.3,372 488,376.9 487.3,381.9 489.3,386.9 490.9,390.5 486.2,390.5 483,390.5 480.9,392.6 478.8,394.6 477.3,396.2 475.7,397.8 473.6,398.6 473.1,404.1 468.2,405.4 463.2,405.4 460,403.3 457.6,404.1 453.7,405.2 449.8,406.8 445.9,407.7 442.4,408 441.2,411.2 438.8,412.7 435.7,413.5 432.5,415.1 429.4,416.7 426.3,417.8 423.1,418.2 422.4,421.4 420.8,424.5 419.2,427.6 417.6,430 417.3,435.2 414.8,432.7 411.8,428.9 409.8,424 408.6,417.8 409.3,411.6 407.3,406.6 405.4,408.2 402.3,405.6 399.1,403.1 396,401.2 392.1,399.3 388.1,397.3 384.2,394.9 380.3,392.5 376.4,390.5 373.2,388.9 370.1,387.8 367,386.3 363.8,383.9 361.5,381.1 359.1,378.4 356.8,375.3 355.2,372.2 354.4,369 352.8,366.7 351.3,369 348.9,370.6 346.6,369 347.4,365.9 345,363.5 348.1,363.2 351.3,361.6 354.4,362 357.5,360.4 360.7,359.6 363,358 364.6,354.9 367,351.8" fill="none" stroke="#ffffff" stroke-opacity="0.75" stroke-width="2.6" stroke-linejoin="round"/>
<polygon points="351.5,372.3 352.6,372.8 352.6,375.1 351.5,374.7" fill="none" stroke="#ffffff" stroke-opacity="0.75" stroke-width="1.6" stroke-linejoin="round"/>
<polygon points="354.2,378.1 355.3,378.6 355.3,380.3 354.2,379.8" fill="none" stroke="#ffffff" stroke-opacity="0.75" stroke-width="1.6" stroke-linejoin="round"/>
<polygon points="364.8,388.8 367.6,389.3 367.6,389.7 364.8,389.3" fill="none" stroke="#ffffff" stroke-opacity="0.75" stroke-width="1.6" stroke-linejoin="round"/>
<polygon points="377.5,394.5 380,395 380,395.3 377.5,394.8" fill="none" stroke="#ffffff" stroke-opacity="0.75" stroke-width="1.6" stroke-linejoin="round"/>
<polygon points="473.6,398.6 475.7,397.8 477.3,396.2 478.8,394.6 480.9,392.6 483,390.5 486.2,390.5 490.3,390.5 491.4,390.5 492.9,393.1 495,395.2 498.2,396.2 501.3,396.7 502.9,397.3 503.4,400.9 501.8,401.4 498.7,401.4 495.6,401.8 492.4,402.2 489.8,403.2 487.7,404.6 485.6,406.7 485.6,410.3 483.5,412.9 481.4,416.1 480.4,418.2 479.7,417.1 480.9,414.5 482.5,411.9 481.4,409.8 478.8,410.9 476.5,411.6 476.7,410.3 477.8,407.7 478.3,405.1 478.8,402.5 479.4,400.4 477.3,398.3" fill="none" stroke="#ffffff" stroke-opacity="0.75" stroke-width="1.8" stroke-linejoin="round"/>
<polygon points="505.2,397.6 504.5,400.9 506.5,401.4 510.2,402 511.8,402.5 510.2,404.6 507.6,406.2 506,408.2 503.9,409.8 501.3,410.9 498.2,411.4 495.6,411.9 493.5,411.4 490.3,411.9 487.7,412.9 486.2,414.5 484.6,416.6 483,418.7 481.4,420.8 480.4,421.8 479.4,424.5 479.9,426.5 481.4,428.1 483.5,428.6 485.6,429.2 487.2,431.3 488.2,433 489.3,435.2 487.3,438.9 490.5,442.6 494.2,446.3 496.7,450.1 500.5,453.8 504.2,456.3 507.9,457.5 510,456.7 515,457.3 521.7,460 528.3,461.7 533.3,458.3 535,453.3 540,450.7 546.7,451.7 553.3,452.7 560,451.7 566.7,448.3 571.7,443.3 576.7,440 583.3,438.3 588.3,435 592.7,433.3 593.3,438.3 596,443.3 598.3,440 597.3,435 600,430.7 606.7,428.3 613.3,426 620,423.3 626.7,420 633.3,415 640,410 646.7,405 653.3,401.7 660,396.7 666.7,394 673.3,393.3 676.7,390 671.7,386.7 668.3,380 665,373.3 661.7,366.7 660.7,361.7 655,359.3 649.3,356 647.3,350 641.7,348.3 635,346 628.3,350 621.7,355 615,361.7 606.7,366.7 598.3,370 590,372.7 580,373.3 571.7,370.7 565,371.7 560,370 553.3,373.3 548.4,373.7 542.2,376.2 537.3,378.7 532.3,382.4 528.6,386.1 524.8,391.1 519.9,393.6 514.9,394.8 509.9,396.1 509.2,396.7 506.5,397.8" fill="none" stroke="#ffffff" stroke-opacity="0.75" stroke-width="2.1" stroke-linejoin="round"/>
<polygon points="125.3,42.2 127.8,40.3 130.4,37.7 133.6,38.4 135.5,37.1 137,35.8 138.3,37.7 139,41.6 139.9,45.4 138.7,48.6 139.9,51.1 142.5,49.8 145,48.6 146.9,47.7 148.9,49.8 151.4,49.2 153.9,49.8 155.9,51.8 159,51.1 162.2,51.8 166.1,52.4 168.9,50.5 170.5,52.4 172.4,54.9 173.7,57.5 173.4,60.7 175,63.2 176.5,66.4 176.9,69.6 175.6,72.8 173.7,75.3 171.1,77.2 168.6,79.1 165.4,79.8 162.2,79.5 159,80.4 155.9,81.1 152.7,81.3 149.5,82.1 146.3,82.6 143.1,83 139.9,82.3 137.4,81.1 134.8,79.1 132.3,77.2 130.4,74.7 128.5,72.1 126.6,69.6 124,68.3 120.8,67.7 120.4,66.4 123.4,65.8 126.6,65.1 129.1,63.9 127.8,61.3 127.2,58.8 127.8,56.2 125.3,54.9 122.5,53.7 122.1,52.4 125.3,52.4 129.1,52.4 131.7,51.1 133.6,48.6 132.3,46 129.7,44.1 127.2,43.9" fill="#4d87ca" stroke="#4d87ca" stroke-width="0.5" stroke-linejoin="round"/>
<polygon points="331,70 333,65.8 335.8,62.4 337.8,59 339.2,55.6 336.5,54.2 333,53.5 329.6,52.8 331.7,50.8 335.1,48.7 333.7,46.6 335.8,44.6 338.5,41.8 340.6,43.9 342.6,46 343.3,42.5 345.4,39.1 346.7,36.4 349.5,34.3 351.6,32.2 350.9,28.8 352.9,26.1 355,26.7 357,29.5 358.4,26.7 360.5,24.7 362.5,26.7 363.9,24.7 365.3,21.9 367.3,20.6 369.4,17.8 371.4,15.8 374.2,13.7 376.2,11.7 378.3,8.9 379.7,6.9 380.6,10.3 380.4,15.1 381.5,17.8 383.1,14.4 384.5,11 387.2,7.5 389.3,5.5 391.3,5.8 391.1,9.6 392.4,12.3 394.8,8.9 397.5,7.5 400.9,8.2 404.4,9.6 405,11.7 403,13.7 402.3,15.8 405,17.1 407.8,18.5 408.5,20.6 406.4,21.9 404.4,24 403,26.7 402.3,30.2 403,34.3 404.4,37.7 406.4,40.5 409.2,42.5 411.2,45.3 411.9,48.7 412.6,52.8 414.7,56.2 417.4,60.4 420,64.5 420.4,72 422.9,77 425.4,83.2 427.8,88.2 430.3,93.1 434.1,98.1 437.8,101.8 440.3,106.8 441,113 440.3,116.2 437.8,123.7 435.3,129.9 432.1,134.8 429,140 423.1,145.9 415.3,151.8 407.5,156.7 399.6,158.6 391.8,155.7 386.9,149.8 385.9,140 385,139.6 383.6,134.7 382.1,129.8 381.1,125.9 380.5,121.4 381.7,117.1 383.6,113.1 386.4,109.2 389.5,105.3 391.9,101.4 393.8,97.5 395.8,93.5 397.4,89.6 398.7,86.7 397.7,82.7 394.8,79.8 389.9,78.8 385,79.4 381.1,80.8 378.5,84.7 377.2,88.6 376.6,92.5 376.2,96.5 377.2,100.4 375.8,104.3 373.8,108.2 371.3,111.2 368.3,114.1 365.4,117.1 362.5,121 360.1,125.9 358.5,130.8 357.5,135.7 357.2,140.6 357.5,145.5 358.5,150.4 360.5,154.3 363.4,157.3 367.4,159.2 370.3,162.2 372.3,166.1 373.2,170 372,168.4 369.5,173.3 367,178.3 364.5,182 362.5,187 360.8,193.2 359.5,199.4 359.2,196.3 358.8,201.5 359.6,206.7 359.2,212 357.1,216.1 352.9,218.2 348.8,221.4 345.6,224.5 342.5,227.2 339.3,226 336.6,221.4 334.1,216.1 331.6,210.9 328.9,205.7 326.2,200.5 323.7,195.2 321.6,190 324.8,190.7 322.3,184.5 319.8,179.5 317.5,179.7 315.2,175.9 315.7,170.8 314.2,165.7 313.2,170.8 311.1,175.9 307.3,180.2 302.2,183.5 297.1,186.1 292,187.9 286.9,186.1 283.6,182.2 281.8,177.1 280.5,172 278,168.2 280.5,164.9 278,161.8 276.7,155.5 277.4,149.1 279.2,144 278.5,138.9 280.5,135.1 284.3,131.2 288.2,128.2 292,124.8 295.8,122.3 299.6,119.7 303.5,115.9 307.3,119.7 312.4,119 316.2,115.9 311.1,112.1 313.2,107 316.2,101.9 318.8,96.8 321.8,91.7 323.9,85.3 326.4,80.2 329,75.1 331.5,70" fill="#4d87ca" stroke="#4d87ca" stroke-width="0.8" stroke-linejoin="round"/>
<polygon points="373.2,189.5 375.7,190.7 374.4,196.9 372,200.7 370.7,195.7" fill="#4d87ca" stroke="#4d87ca" stroke-width="1.3" stroke-linejoin="round"/>
<polygon points="375.7,157.2 378.9,155.7 380.9,157.2 378.2,158.9" fill="#4d87ca" stroke="#4d87ca" stroke-width="1.3" stroke-linejoin="round"/>
<polygon points="364,208.1 365.3,204.4 366,208.1 364.5,213.1" fill="#4d87ca" stroke="#4d87ca" stroke-width="1.3" stroke-linejoin="round"/>
<polygon points="200.5,122.5 202.5,121.8 203.8,123.5 202.5,125.5 201,125" fill="#e4e4e4" stroke="#e4e4e4" stroke-width="0.3" stroke-linejoin="round"/>
<polygon points="233.3,154 235.3,150 237.3,150.7 236,155.3" fill="#4d87ca" stroke="#4d87ca" stroke-width="1.3" stroke-linejoin="round"/>
<polygon points="216.7,168.7 219.3,166.7 220.7,169.3" fill="#4d87ca" stroke="#4d87ca" stroke-width="1.3" stroke-linejoin="round"/>
<polygon points="197.6,180.6 202.4,177.1 208.2,175.2 214.1,177.1 216.5,180.6 212.9,183.6 209.4,186.5 215.3,188.4 221.2,189.3 223.5,191.6 221.9,195.9 218.8,199.4 215.3,202.9 211.8,206.5 210.6,208.8 214.1,210.5 217.6,213.5 220,217.1 221.9,221.8 222.8,226.5 224.7,231.2 227.1,235.9 228.9,240.6 229.9,245.3 231.3,250 232.9,254.2 236.5,257.1 240,258.9 242.4,262.2 241.6,266.5 240,270 236.9,273.1 234.1,274.7 236.5,277.1 235.3,280.1 231.8,281.8 225.9,282.5 220,281.8 214.1,280.6 208.2,279.4 202.4,278.7 197.6,279.4 192.9,281.1 188.2,282.9 183.5,284.8 178.8,286.5 175.3,286.9 176.5,284.1 180.5,281.8 184.7,278.7 189.4,275.9 194.1,273.5 198.8,271.2 196.5,268.8 191.8,267.6 187.1,266.5 183.5,264.1 185.9,260.6 190.6,258.2 195.3,255.9 194.1,252.4 192.9,248.8 196.5,247.2 201.2,246.5 205.4,245.3 207.1,241.8 205.9,237.1 204.7,232.4 205.4,228.8 202.4,226.5 198.8,224.6 196,222.9 193.6,219.4 195.3,215.9 197.6,212.4 196.5,208.8 192.9,210.5 191.3,207.6 192.9,204.1 192.2,200.6 194.1,197.1 196,193.5 194.6,190 196,185.3" fill="#4d87ca" stroke="#4d87ca" stroke-width="0.8" stroke-linejoin="round"/>
<polygon points="189.4,175.9 192.2,174.2 193.6,177.1 191.8,180.6 189.4,182.9 188.2,179.4" fill="#4d87ca" stroke="#4d87ca" stroke-width="0.5" stroke-linejoin="round"/>
<polygon points="183.5,184.1 185.2,182.9 184.7,188.8 183.1,187.6" fill="#4d87ca" stroke="#4d87ca" stroke-width="0.5" stroke-linejoin="round"/>
<polygon points="189.9,186.9 191.8,186.5 191.3,189.3" fill="#4d87ca" stroke="#4d87ca" stroke-width="0.5" stroke-linejoin="round"/>
<polygon points="169.4,221.3 172.9,218.9 176.5,215.9 180,215.2 183.5,216.6 185.9,219.9 186.6,224.6 184.7,228.8 181.2,231.2 177.6,230.7 174.1,229.3 170.6,227.6 168.2,224.6" fill="#4d87ca" stroke="#4d87ca" stroke-width="0.8" stroke-linejoin="round"/>
<polygon points="312.2,199.4 313.6,202.5 313.2,206.7 312.2,210.9 313.2,215.1 312.2,219.3 310.7,223.5 309,226.6 307.3,229.7 306.5,232.9 308,235 311.1,237.1 313.6,239.2 316.3,242.3 318.4,245.4 320.5,247.5 322.6,246.1 324.7,244 327.8,242.7 332,241.9 335.2,240.2 338.3,239.8 341.4,242.3 344.6,245.4 347.7,248.6 347.3,252.7 347.9,258 349.4,263.2 350.4,268.4 352.1,273.7 351.5,278.9 352.5,284.1 355,288.3 355.6,290.8 349.3,290.8 344.4,292.6 339.4,294.5 334.4,297 330.7,299.5 331.5,304 334.4,308.2 338.2,311.9 341.9,315.7 345.6,318.9 349.3,320.6 354.3,318.9 359.3,316.4 364.2,315.7 369.2,316.4 374.2,315.7 373.5,321 374.8,325 376.1,328.3 375.5,330.9 374.4,333.5 372.9,336.1 370.9,338.8 370,342 367.8,344.8 364.1,347.3 359.2,348.5 354.2,349.2 349.2,349.7 344.2,349.7 340.5,349.2 335.6,347.3 330.6,345.3 325.6,344.3 320.7,344.8 315.7,346.8 312,348.5 308.2,349.7 304.5,353.5 300.8,355.9 297.1,353.5 293.3,354.7 288.4,355.9 283.4,354.7 280.9,357.2 280.4,360 282,363.1 282.4,365.5 278.8,367.8 278,370.2 280.4,372.5 280.8,374.9 279.2,377.3 280.4,380 282.7,382 285.9,383.1 287.5,384.3 286.7,385.5 284.3,387.5 282,389.4 279.6,391 277.3,392.5 275.3,394.5 272.5,395.3 269.4,395.7 267.1,394.5 264.7,392.9 262.4,391.8 260,391 254.8,389 249.9,389.5 244.9,390.7 241.2,393.2 238.7,396.9 240.5,401.7 238,402.2 231.8,401.2 225.6,399.2 219.4,396.7 213.2,394.2 207,390.5 200.8,386.8 195.1,384.3 195.8,380.6 197.1,375.6 199,370.7 200.8,365.7 202.5,360.7 204,355.8 205,350.8 203.3,345.8 200.8,340.8 197.6,335.9 195.8,330.9 193.3,327.2 189.6,323.5 185.9,321 182.2,318.5 179.2,314.8 177.7,311 180.9,309.3 187.1,307.8 193.3,308.6 199.5,309.3 204.5,310.3 207.5,308.6 206.5,303.6 207.5,299.4 210,300.4 212,303.6 216.9,304.3 222.4,304.8 224.4,302.4 229.3,299.9 234.3,297.4 236.8,293.7 238,288.7 240,285 243.4,283.6 246.9,282.2 251,280.9 255.1,279.5 257.8,277.4 259.9,274.7 262,272 264,268.5 266.1,265.1 267.4,261.7 270.9,258.9 275,256.9 279.1,255.8 283.2,255.2 286.7,254.1 287.3,251.6 291.5,251.1 294.9,252.1 295.6,254.8 299,253.4 301.1,250.7 303.8,249.6 303.2,245.4 302.3,240.2 301.1,235 299.6,229.7 298.1,224.5 297.5,219.3 298.6,214.1 300.2,209.9 302.7,206.7 305.9,204.2 309,201.5" fill="#4d87ca" stroke="#4d87ca" stroke-width="1.3" stroke-linejoin="round"/>
<polygon points="310.1,226.6 313.2,225.1 315.7,227.2 316.3,230.8 314.9,233.9 312.2,235 310.1,231.8" fill="#4d87ca" stroke="#4d87ca" stroke-width="0.5" stroke-linejoin="round"/>
<polygon points="320.5,221.4 323.7,218.2 327.8,217.2 331,219.3 332,223.5 331,227.6 328.9,231.8 325.8,235 322.6,237.1 319.5,235 320.5,230.8 318.4,227.6 319.1,223.9" fill="#4d87ca" stroke="#4d87ca" stroke-width="0.5" stroke-linejoin="round"/>
<polygon points="318.4,239.2 322.6,238.1 325.8,239.2 323.7,241.2 319.5,241.2" fill="#4d87ca" stroke="#4d87ca" stroke-width="0.5" stroke-linejoin="round"/>
<polygon points="297.6,405.6 300,401.4 303.3,399.4 304.5,403.1 305,409.3 304,415.6 302,419.3 299,418 297.1,413.1 296.6,408.8" fill="#4d87ca" stroke="#4d87ca" stroke-width="1.3" stroke-linejoin="round"/>
<polygon points="151.8,226.5 155.3,224.1 160,223.6 163.5,221.8 165.9,217.1 169.4,215.2 174.1,214.7 176.5,215.9 172.9,218.9 169.4,221.3 168.2,224.6 170.6,227.6 174.1,229.3 177.6,230.7 180.5,233.1 181.9,237.1 181.2,241.8 180,246.5 177.6,250 174.1,252.8 169.4,254.2 164.7,255.2 160,256.6 155.3,258.2 150.6,258.9 145.9,257.5 142.4,255.2 141.9,252.4 144.7,250 148.9,248.1 152.2,245.3 154.6,242.5 151.8,239.4 150.6,234.7 152.2,230" fill="#dda1c6" stroke="#dda1c6" stroke-width="0.8" stroke-linejoin="round"/>
<polygon points="120.1,374.6 120.9,371.9 124,370.7 127.9,369.9 131.1,368.3 135,367.9 138.1,369.4 141.3,370.7 145.2,371.9 149.9,373 154.6,374.6 159.3,376.2 164,377.3 168.7,378.5 173.4,379.3 177.4,380.1 181.3,381.7 186,382.9 190.7,384 194.6,384.8 200.8,386.8 207,390.5 213.2,394.2 219.4,396.7 225.6,399.2 231.8,401.2 238,402.2 240.5,401.7 240.3,406.6 236.5,409.1 230.3,411.6 224.1,414.8 217.9,417.8 211.7,421.5 213.7,425 211.4,428.1 208.2,431.3 205.1,434.4 202.7,437.5 202,440.7 202.7,443.8 204.3,447 203.5,450.1 200.4,452.9 197.3,455.6 194.1,458.3 191.8,461.1 188.6,462.6 184.7,464.2 181.6,466.1 179.2,468.9 176.9,471.7 173.7,471.7 169,471.3 164.3,470.8 159.6,470.2 155.7,469.2 151.8,468.9 147.8,469.7 143.9,470.5 140,472.1 136.9,473.9 133.7,472.1 132.2,468.9 130.6,465 129,461.9 126.7,458.7 123.5,456.4 119.6,455.6 115.7,456.4 111.8,455.1 107.8,454 103.9,453.2 105.4,450.1 107.4,445.1 108.6,440.1 109.4,435.2 107.9,431.4 104.9,428.9 104.4,424 106.9,420.3 109.9,416.5 112.4,411.6 114.8,406.6 116.8,400.4 118.6,394.2 119.8,388 121,383 122,382.5 120.9,378.5" fill="#dda1c6" stroke="#dda1c6" stroke-width="1.3" stroke-linejoin="round"/>
<polygon points="229.1,440.6 232.8,438.1 236.5,436.4 240.3,438.9 239,441.4 236.5,443.8 233.6,445.1 231.1,443.1" fill="#dda1c6" stroke="#dda1c6" stroke-width="1.3" stroke-linejoin="round"/>
<polygon points="244,435.7 247,434.7 249,436.6 246,437.6" fill="#dda1c6" stroke="#dda1c6" stroke-width="1.3" stroke-linejoin="round"/>
<polygon points="216.2,447.1 219.2,445.6 220.1,448.1 217.7,449.6" fill="#dda1c6" stroke="#dda1c6" stroke-width="1.3" stroke-linejoin="round"/>
<polygon points="286.7,385.5 287.5,384.3 285.9,383.1 282.7,382 280.4,380 279.2,377.3 280.8,374.9 280.4,372.5 278,370.2 278.8,367.8 282.4,365.5 282,363.1 280.4,360 280.9,357.2 283.4,354.7 288.4,355.9 293.3,354.7 297.1,353.5 300.8,355.9 304.5,353.5 308.2,349.7 312,348.5 315.7,346.8 320.7,344.8 325.6,344.3 330.6,345.3 335.6,347.3 340.5,349.2 344.2,349.7 343.8,353.5 344.7,358.4 345.5,362.2 343,363.4 339.3,360.9 335.6,362.2 332.3,365.9 332,371.2 333.1,375.1 334.7,379 337.1,382.2 339.9,385.3 342.5,388.4 345.2,392 347.7,395.5 350.4,398.6 353.1,401.8 351.4,402.4 354.5,405.5 357.6,408.2 360.8,410.2 363.9,411.4 367.1,411.8 370.2,411.6 372.2,411.4 371.4,413.3 370.6,415.3 373.3,416.9 376.5,418.4 377.8,419.1 381.8,420.4 385.7,421.9 389.6,423.8 393.5,426.2 396.7,428.5 398.7,431.4 399,434 397.5,435.6 395.6,433.2 392.7,431.4 389.6,430.1 385.7,429.3 382.5,430.1 380.5,432.5 379.4,435.6 378.9,438.7 380.5,441.4 383.3,442.6 385.7,444.2 386.2,447 384.9,449.7 382.5,451.3 380.5,452.8 381,455.2 379.9,458.3 377.8,460.7 376.3,463 373.9,464.3 372,463 372.4,460.7 373.6,457.5 374.7,455.2 377.1,453.6 377.8,451.3 376.7,448.1 375.5,445 373.9,441.9 372.4,438.7 371.8,439.2 368.6,436.9 365.5,434.5 363.1,432.2 360.8,430.2 357.6,428.4 354.5,426.7 351.4,424.3 349,422 346.7,420.8 343.5,420.5 340.4,420.4 337.3,418.4 334.1,415.7 331,412.9 327.8,409.4 324.7,406.3 322.4,403.9 320,401.6 319.6,399.2 317.6,396.9 316.1,394.5 314.9,392.2 314.1,389.8 313.3,387.5 312.2,385.5 310.6,383.9 308.2,382.7 305.9,381.6 303.5,380.2 301.2,379.2 298.8,378.8 296.5,379.2 294.5,380.4 292.9,382 291.4,383.5 289,385.1" fill="#dda1c6" stroke="#dda1c6" stroke-width="1.3" stroke-linejoin="round"/>
<polygon points="337.3,467.6 339.6,465.1 343.5,463.7 347.5,464.3 351.4,465.7 356.3,465.1 361.2,463.7 365.5,461.8 368.6,461.2 369,464.7 367.5,468.6 367.1,472.9 366.7,477.5 364.7,480.4 361.6,480 358.2,478 354.3,476.5 350.4,474.5 346.5,472.9 342.5,471.6 339.2,470.2" fill="#dda1c6" stroke="#dda1c6" stroke-width="0.8" stroke-linejoin="round"/>
<polygon points="295,425 301.7,422.7 306.7,426 308.3,433.3 306.7,443.3 303.3,451.7 297.3,453.3 294,446.7 293.3,436.7 292.7,430" fill="#dda1c6" stroke="#dda1c6" stroke-width="1.3" stroke-linejoin="round"/>
<polygon points="358.6,491.8 359.8,491.4 360.2,492.5 359,492.9" fill="#dda1c6" stroke="#dda1c6" stroke-width="0.2" stroke-linejoin="round"/>
<polygon points="354,288.3 350.8,284.1 349.8,278.9 350.4,273.7 348.8,268.4 347.7,263.2 346.2,258 345.6,252.7 346.7,248.6 350.8,245.4 356.1,242.3 361.3,239.2 367.6,236.4 373.9,234.3 380.4,236.2 385.4,236.9 391.6,236.2 399,235.4 406.5,234.9 412.7,234.4 417.6,236.2 420.1,239.9 421.4,244.9 422.6,249.8 425.1,254.3 423.9,258.5 421.9,262.3 423.9,267.2 426.8,272.2 428.8,277.2 430.8,282.1 429.3,287.1 426.3,290.8 423.9,294.5 421.9,299.5 421.4,304.5 417.6,304 412.7,303.2 407.7,304.5 402.7,305.7 399,304 395.3,305 390.3,303.2 385.4,300.8 381.6,298.3 377.9,299.5 374.2,297 369.2,294.5 365.5,292.1 360.5,289.6 355.6,290.8" fill="#dda1c6" stroke="#dda1c6" stroke-width="1.3" stroke-linejoin="round"/>
<polygon points="330.7,299.5 334.4,297 339.4,294.5 344.4,292.6 349.3,290.8 355.6,290.8 360.5,289.6 365.5,292.1 369.2,294.5 374.2,297 377.9,299.5 381.6,298.3 385.4,300.8 387.8,304 385.4,308.2 381.6,310.7 377.9,312.4 374.2,315.7 369.2,316.4 364.2,315.7 359.3,316.4 354.3,318.9 349.3,320.6 345.6,318.9 341.9,315.7 338.2,311.9 334.4,308.2 331.5,304" fill="#dda1c6" stroke="#dda1c6" stroke-width="1.3" stroke-linejoin="round"/>
<polygon points="344.2,348.6 349.7,349.1 354.4,348.2 359.1,347.4 363,346.6 367,345.2 369.8,347.5 367,351.8 364.6,354.9 363,358 360.7,359.6 357.5,360.4 354.4,362 351.3,361.6 348.1,363.2 345,363.5 344.5,358.8 343.7,354.1" fill="#dda1c6" stroke="#dda1c6" stroke-width="1.3" stroke-linejoin="round"/>
<polygon points="409.8,349.6 413.5,345.9 417.3,340.9 419.7,334.7 422.2,328.5 425.9,323.5 429.7,320.3 435.9,318.6 442.1,317.3 448.3,316.1 454.5,313.6 459,310.4 463.2,311.1 466.9,314.8 469.9,319.8 473.9,323.5 477.4,327.3 479.3,332.2 480.6,337.2 483.1,340.9 486.8,343.4 491.8,344.1 496.2,342.2 498,345.9 495.5,350.8 493,355.8 491.8,360.8 490.5,364.5 486.8,364 481.8,363.3 476.9,364 471.9,365.8 466.9,368.2 462,370.7 457,372.5 450.8,373.2 444.6,373.2 438.4,373.9 434.6,372 432.2,368.2 429.7,364.5 425.9,363.3 422.2,362 418.5,359.5 414.8,355.8 411,353.3" fill="#dda1c6" stroke="#dda1c6" stroke-width="1.3" stroke-linejoin="round"/>
<polygon points="405.5,168.4 408,165.9 412.9,163.4 417.9,160.9 424.1,159.2 430.3,157.7 434.1,158.4 433.6,163.4 432.8,168.4 435.3,173.3 436.5,178.3 435.3,183.3 431.6,184.5 427.8,183.3 424.1,182 419.2,182 415.4,183.3 412.9,180.8 411.7,177.1 408,175.8 406.2,172.1" fill="#dda1c6" stroke="#dda1c6" stroke-width="1.3" stroke-linejoin="round"/>
<polygon points="396.3,177.1 399.3,175.1 401.3,177.1 400.5,179.5 397.3,182 395.6,180.8" fill="#dda1c6" stroke="#dda1c6" stroke-width="1.3" stroke-linejoin="round"/>
<polygon points="398,170.8 400.5,170.1 401.3,172.1 398.8,173.1" fill="#dda1c6" stroke="#dda1c6" stroke-width="1.3" stroke-linejoin="round"/>
<polygon points="395.6,210.6 399.3,208.1 409.2,206.9 419.2,204.9 427.8,206.4 435.3,209.3 438.5,211.8 439,215.6 436.5,219.3 435.3,223 433.6,227.2 430.3,231.2 426.6,234.7 422.9,237.2 419.2,235.4 415.4,232.2 416.7,226.7 412.9,224.2 408,223.8 403,223 399.3,221.8 396.8,218 395.6,214.3" fill="#dda1c6" stroke="#dda1c6" stroke-width="1.3" stroke-linejoin="round"/>
<polygon points="424.7,420.3 428.4,417.8 433.4,415.3 439.6,412.8 444.6,410.3 450.8,407.8 457,406.6 463.2,405.4 468.2,405.4 473.1,404.1 473.6,398.6 477.3,398.3 479.4,400.4 478.8,402.5 478.3,405.1 477.8,407.7 476.7,410.3 474.6,409.3 471.5,408.8 468.4,409.3 465.2,409.8 463.1,411.4 460,412.7 461.4,415.7 462.5,419.6 460.6,418.6 459,416.7 458,419.6 459,423.1 456.7,421.6 455.5,418.6 454.1,421.6 454.7,425.5 452.2,423.5 450.8,419.6 449.2,417.6 446.9,418.6 444.3,420.6 442.4,423.5 443.3,427.5 445.3,431.4 447.6,434.9 450.2,438.2 448.2,440.2 446.3,442.2 449.2,443.5 453.1,444.7 457.1,446.7 460.6,449 462.9,452 463.9,454.9 461.4,453.9 458,451.4 454.7,449.4 451.2,448.6 447.3,449 443.3,449.4 439.4,449 435.5,448 432,446.1 429.2,443.5 427.3,440.2 424.7,437.3 421.8,434.9 418.8,432.9 418.2,432.4 419.4,428.4 420.8,424.5 422.7,420.6" fill="#dda1c6" stroke="#dda1c6" stroke-width="0.8" stroke-linejoin="round"/>
<polygon points="432,457.8 434.5,454.9 438.4,452.9 442.4,452.5 446.3,453.9 450.2,455.9 452.2,458.8 450.2,461.2 448.2,463.7 450.2,466.7 452.2,470.2 450.2,471.6 447.3,468.6 445.3,465.7 443.7,468.6 441.4,466.7 439,463.1 436.5,460.4 433.5,459.2" fill="#dda1c6" stroke="#dda1c6" stroke-width="0.6" stroke-linejoin="round"/>
<polygon points="452.2,442.2 456.1,444.1 460,446.7 462.9,450 461.4,450.6 458,448.6 454.1,446.1" fill="#dda1c6" stroke="#dda1c6" stroke-width="0.4" stroke-linejoin="round"/>
<polygon points="462.5,487.3 466.9,485.3 474.7,486.3 482.5,485.9 488.4,484.7 492,485.9 490.4,488.2 484.5,489.2 477.6,490.6 470.8,489.8 465.9,489.8" fill="#dda1c6" stroke="#dda1c6" stroke-width="0.6" stroke-linejoin="round"/>
<polygon points="559.3,469.9 561.1,468.5 563.4,467.6 566.2,467.2 568.9,466.7 571.2,464.4 572.6,462.6 574.5,460.7 576.8,458 579.1,455.7 580,454.7 579.5,456.1 577.7,458.9 576.3,461.6 575.8,463 576.8,464.4 575.4,464.9 574,465.8 572.6,467.6 571.7,469.9 569.9,471.8 567.1,472.7 564.3,473 561.6,472.7 559.7,471.3" fill="#dda1c6" stroke="#dda1c6" stroke-width="0.3" stroke-linejoin="round"/>
<polygon points="478.8,432.5 480.2,430.4 484.3,431.1 482.9,433.1" fill="#dda1c6" stroke="#dda1c6" stroke-width="0.2" stroke-linejoin="round"/>
<polygon points="485.1,442.3 485.5,440.2 486.7,440.9 486.3,442.9" fill="#dda1c6" stroke="#dda1c6" stroke-width="0.2" stroke-linejoin="round"/>
<polygon points="487.6,449.4 488.2,448.3 490,448.7 489.4,449.7" fill="#dda1c6" stroke="#dda1c6" stroke-width="0.2" stroke-linejoin="round"/>
<polygon points="507.3,468.2 507.6,464.7 508.8,465.9 508.4,469.4" fill="#dda1c6" stroke="#dda1c6" stroke-width="0.2" stroke-linejoin="round"/>
<polygon points="495.3,459.1 495.8,458.2 497.3,458.5 496.8,459.4" fill="#dda1c6" stroke="#dda1c6" stroke-width="0.2" stroke-linejoin="round"/>
<polygon points="500.7,478.1 500.9,476.1 501.7,476.8 501.4,478.8" fill="#dda1c6" stroke="#dda1c6" stroke-width="0.2" stroke-linejoin="round"/>
<polygon points="467.8,414.1 468.3,412.9 469.8,413.3 469.3,414.5" fill="#dda1c6" stroke="#dda1c6" stroke-width="0.2" stroke-linejoin="round"/>
<polygon points="470.6,423.9 471.2,422.7 472.9,423.1 472.4,424.3" fill="#dda1c6" stroke="#dda1c6" stroke-width="0.2" stroke-linejoin="round"/>
<polygon points="466.1,442.5 466.5,441.4 467.6,441.8 467.3,442.9" fill="#dda1c6" stroke="#dda1c6" stroke-width="0.2" stroke-linejoin="round"/>
<polygon points="415.3,438.9 415.6,436.9 416.5,437.5 416.2,439.6" fill="#dda1c6" stroke="#dda1c6" stroke-width="0.2" stroke-linejoin="round"/>
<polygon points="423.9,456 424.3,453.9 425.5,454.6 425.1,456.7" fill="#dda1c6" stroke="#dda1c6" stroke-width="0.2" stroke-linejoin="round"/>
<polygon points="426.1,461.6 426.4,460.4 427.3,460.8 427,462" fill="#dda1c6" stroke="#dda1c6" stroke-width="0.2" stroke-linejoin="round"/>
<polygon points="472,456.2 472.4,455.3 473.5,455.6 473.1,456.5" fill="#dda1c6" stroke="#dda1c6" stroke-width="0.2" stroke-linejoin="round"/>
<polygon points="477.1,459.1 477.4,458.2 478.2,458.5 477.9,459.4" fill="#dda1c6" stroke="#dda1c6" stroke-width="0.2" stroke-linejoin="round"/>
<polygon points="473.9,463 474.3,462.3 475.5,462.5 475.1,463.2" fill="#dda1c6" stroke="#dda1c6" stroke-width="0.2" stroke-linejoin="round"/>
<polygon points="479,465 479.3,464.2 480.2,464.5 479.9,465.2" fill="#dda1c6" stroke="#dda1c6" stroke-width="0.2" stroke-linejoin="round"/>
<polygon points="469.2,459.2 469.5,458 470.4,458.4 470.1,459.6" fill="#dda1c6" stroke="#dda1c6" stroke-width="0.2" stroke-linejoin="round"/>
<polygon points="482.7,462 483.1,461.3 484.3,461.5 483.9,462.3" fill="#dda1c6" stroke="#dda1c6" stroke-width="0.2" stroke-linejoin="round"/>
<polygon points="468.2,466.9 468.5,466.2 469.4,466.4 469.1,467.2" fill="#dda1c6" stroke="#dda1c6" stroke-width="0.2" stroke-linejoin="round"/>
<polygon points="486.9,457.1 487.2,456.4 488,456.6 487.7,457.4" fill="#dda1c6" stroke="#dda1c6" stroke-width="0.2" stroke-linejoin="round"/>
<polygon points="453.6,475.9 453.9,474.7 454.6,475.1 454.4,476.3" fill="#dda1c6" stroke="#dda1c6" stroke-width="0.2" stroke-linejoin="round"/>
<polygon points="491.8,455.1 492.1,454.4 492.9,454.7 492.6,455.4" fill="#dda1c6" stroke="#dda1c6" stroke-width="0.2" stroke-linejoin="round"/>
<polygon points="394.3,196.9 396.8,193.2 400.5,190.7 404.2,190 408,193.2 410.5,196.4 414.2,196.9 416.7,193.2 416.2,188.2 415.4,183.3 419.2,182 424.1,182 427.8,183.3 431.6,184.5 435.3,183.3 439,185.8 441.5,189.5 444,193.2 446.5,197.4 445.2,201.4 441.5,204.4 439,208.1 435.3,209.3 431.6,208.1 427.8,206.4 424.1,205.6 419.2,204.9 414.2,205.6 409.2,206.9 404.2,207.4 399.3,208.1 395.6,210.6 393.8,205.6 393.1,200.7" fill="#c84b9a" stroke="#c84b9a" stroke-width="1.3" stroke-linejoin="round"/>
<polygon points="373.5,321 374.8,317.1 378.1,314.5 382,312.5 384,309.9 386,307.2 389.3,305.9 392.6,304.6 395.2,305.9 399.1,306.6 401.8,305.3 405.7,304.6 409.6,303.9 413.6,303.3 416.9,304.6 420.2,306.6 420.8,309.2 419.5,312.5 417.5,315.1 413.6,313.8 409.6,314.5 406.4,316.4 403.1,319.7 399.1,321 395.2,323 391.9,325 388.6,326.3 384.7,326.9 380.7,327.6 377.5,326.9 374.8,325" fill="#c84b9a" stroke="#c84b9a" stroke-width="1.3" stroke-linejoin="round"/>
<polygon points="374.8,325 377.5,326.9 380.7,327.6 384.7,326.9 388.6,326.3 391.9,325 395.2,323 399.1,321 403.1,319.7 406.4,316.4 409.6,314.5 413.6,313.8 417.5,315.1 421.5,316.4 425.4,318.4 426.7,320.4 424.1,322.3 421.5,325 419.5,328.3 418.2,332.2 416.9,336.1 416.2,339.4 415.6,343.4 412.9,345.3 409.6,347.3 406.4,348.9 403.1,349.7 399.8,350.6 396.5,351.9 393.2,353.2 389.9,354.5 386.6,355.2 383.4,354.5 380.1,353.2 377.5,351.9 374.8,349.9 372.2,348 370.5,345.3 370,342 370.9,338.8 372.9,336.1 374.4,333.5 375.5,330.9 376.1,328.3" fill="#c84b9a" stroke="#c84b9a" stroke-width="1.3" stroke-linejoin="round"/>
<polygon points="368.5,348.6 370.9,347.8 374,350.2 377.2,352.5 381.1,354.1 385.8,355.4 390.5,354.9 394.4,353.8 394.9,348.4 402.4,345.9 409.3,347.6 411,353.3 414.8,355.8 418.5,359.5 422.2,362 425.9,363.3 429.7,364.5 432.2,368.2 434.6,372 438.4,373.9 444.6,373.2 450.8,373.2 457,372.5 462,370.7 466.9,368.2 471.9,365.8 476.9,364 481.8,363.3 486.8,364 490.5,364.5 491.8,368.2 489.3,372 488,376.9 487.3,381.9 489.3,386.9 490.9,390.5 486.2,390.5 483,390.5 480.9,392.6 478.8,394.6 477.3,396.2 475.7,397.8 473.6,398.6 473.1,404.1 468.2,405.4 463.2,405.4 460,403.3 457.6,404.1 453.7,405.2 449.8,406.8 445.9,407.7 442.4,408 441.2,411.2 438.8,412.7 435.7,413.5 432.5,415.1 429.4,416.7 426.3,417.8 423.1,418.2 422.4,421.4 420.8,424.5 419.2,427.6 417.6,430 417.3,435.2 414.8,432.7 411.8,428.9 409.8,424 408.6,417.8 409.3,411.6 407.3,406.6 405.4,408.2 402.3,405.6 399.1,403.1 396,401.2 392.1,399.3 388.1,397.3 384.2,394.9 380.3,392.5 376.4,390.5 373.2,388.9 370.1,387.8 367,386.3 363.8,383.9 361.5,381.1 359.1,378.4 356.8,375.3 355.2,372.2 354.4,369 352.8,366.7 351.3,369 348.9,370.6 346.6,369 347.4,365.9 345,363.5 348.1,363.2 351.3,361.6 354.4,362 357.5,360.4 360.7,359.6 363,358 364.6,354.9 367,351.8" fill="#c84b9a" stroke="#c84b9a" stroke-width="1.3" stroke-linejoin="round"/>
<polygon points="412.2,394.7 414.5,391.6 416.9,388.4 419.2,387.3 421.1,389.2 423.6,391.1 426.3,393.1 427.8,395.5 427.1,397.8 424.7,399.9 422.4,401.5 419.5,403 417.3,401.8 415.3,399.4 413.3,397.1" fill="#e6e6e6" stroke="#f6eaf1" stroke-width="0.6" stroke-linejoin="round"/>
<polygon points="351.5,372.3 352.6,372.8 352.6,375.1 351.5,374.7" fill="#c84b9a" stroke="#c84b9a" stroke-width="0.3" stroke-linejoin="round"/>
<polygon points="354.2,378.1 355.3,378.6 355.3,380.3 354.2,379.8" fill="#c84b9a" stroke="#c84b9a" stroke-width="0.3" stroke-linejoin="round"/>
<polygon points="364.8,388.8 367.6,389.3 367.6,389.7 364.8,389.3" fill="#c84b9a" stroke="#c84b9a" stroke-width="0.3" stroke-linejoin="round"/>
<polygon points="377.5,394.5 380,395 380,395.3 377.5,394.8" fill="#c84b9a" stroke="#c84b9a" stroke-width="0.3" stroke-linejoin="round"/>
<polygon points="473.6,398.6 475.7,397.8 477.3,396.2 478.8,394.6 480.9,392.6 483,390.5 486.2,390.5 490.3,390.5 491.4,390.5 492.9,393.1 495,395.2 498.2,396.2 501.3,396.7 502.9,397.3 503.4,400.9 501.8,401.4 498.7,401.4 495.6,401.8 492.4,402.2 489.8,403.2 487.7,404.6 485.6,406.7 485.6,410.3 483.5,412.9 481.4,416.1 480.4,418.2 479.7,417.1 480.9,414.5 482.5,411.9 481.4,409.8 478.8,410.9 476.5,411.6 476.7,410.3 477.8,407.7 478.3,405.1 478.8,402.5 479.4,400.4 477.3,398.3" fill="#c84b9a" stroke="#c84b9a" stroke-width="0.5" stroke-linejoin="round"/>
<polygon points="505.2,397.6 504.5,400.9 506.5,401.4 510.2,402 511.8,402.5 510.2,404.6 507.6,406.2 506,408.2 503.9,409.8 501.3,410.9 498.2,411.4 495.6,411.9 493.5,411.4 490.3,411.9 487.7,412.9 486.2,414.5 484.6,416.6 483,418.7 481.4,420.8 480.4,421.8 479.4,424.5 479.9,426.5 481.4,428.1 483.5,428.6 485.6,429.2 487.2,431.3 488.2,433 489.3,435.2 487.3,438.9 490.5,442.6 494.2,446.3 496.7,450.1 500.5,453.8 504.2,456.3 507.9,457.5 510,456.7 515,457.3 521.7,460 528.3,461.7 533.3,458.3 535,453.3 540,450.7 546.7,451.7 553.3,452.7 560,451.7 566.7,448.3 571.7,443.3 576.7,440 583.3,438.3 588.3,435 592.7,433.3 593.3,438.3 596,443.3 598.3,440 597.3,435 600,430.7 606.7,428.3 613.3,426 620,423.3 626.7,420 633.3,415 640,410 646.7,405 653.3,401.7 660,396.7 666.7,394 673.3,393.3 676.7,390 671.7,386.7 668.3,380 665,373.3 661.7,366.7 660.7,361.7 655,359.3 649.3,356 647.3,350 641.7,348.3 635,346 628.3,350 621.7,355 615,361.7 606.7,366.7 598.3,370 590,372.7 580,373.3 571.7,370.7 565,371.7 560,370 553.3,373.3 548.4,373.7 542.2,376.2 537.3,378.7 532.3,382.4 528.6,386.1 524.8,391.1 519.9,393.6 514.9,394.8 509.9,396.1 509.2,396.7 506.5,397.8" fill="#c84b9a" stroke="#c84b9a" stroke-width="0.8" stroke-linejoin="round"/>
<polyline points="362.5,37.7 361.2,41.2 360.5,44.6 357,46.6 353.6,47.3 350.9,48 348.1,50.1 346.1,52.8 344.7,56.2 343.3,60.4 342.6,64.5 343.6,68.6 340.9,68.3 338.4,74.5 335.9,80.7" fill="none" stroke="#ffffff" stroke-width="0.55" stroke-opacity="0.8" stroke-linejoin="round" stroke-linecap="round"/>
<polyline points="336.6,82.8 335.4,89.1 334.1,95.5 334.6,101.9 332.8,108.3 327.7,110.8 323.9,114.6 322.6,121 323.9,127.4 325.2,133.8 327.7,140.2 329,145.3 326.4,151.6 324.4,158 323.9,164.4 321.8,170.8 320.8,177.1 319.3,179.7" fill="none" stroke="#ffffff" stroke-width="0.55" stroke-opacity="0.8" stroke-linejoin="round" stroke-linecap="round"/>
<polyline points="362.5,37.7 364.6,35 367.3,35.7 370.1,38.4 372.8,41.2 375.6,43.9 378.3,47.3 380.1,51.4 381.5,55.6 382.8,59.7 384.5,63.8 385.6,68.6 384.4,60.8 385.6,67.1 387.4,73.3 388.1,78.2" fill="none" stroke="#ffffff" stroke-width="0.55" stroke-opacity="0.8" stroke-linejoin="round" stroke-linecap="round"/>
<polyline points="364.6,35 367.3,36.4 370.1,39.1 373.5,41.2 376.9,40.5 379.7,38.4 382.4,39.8 385.2,40.5 386.5,37 387.5,32.9 386.9,28.8 387.2,24.7 388.6,21.3 391.3,18.5 394.1,17.1 396.8,19.2 399.6,20.6 401.6,22.6 402.3,26.1 402.6,29.5" fill="none" stroke="#ffffff" stroke-width="0.55" stroke-opacity="0.8" stroke-linejoin="round" stroke-linecap="round"/>
<polyline points="122,387.2 125.6,387.9 127.2,391.1 130.3,392.6 134.2,392.3 138.1,392.6 141.3,394.2 142.8,397.4 144.9,399.7 142.8,402.8 139.7,404.9 137,406.8 136.6,410.7 135.5,414.6 133.4,417.7 131.9,420.1 128.7,421.7 126.4,423.2 127.2,427.2 128.7,431.1 129.5,435 127.9,442.3 125.1,445.4 122.7,448.5 120.7,451.7 120.1,455.6" fill="none" stroke="#ffffff" stroke-width="0.7" stroke-opacity="0.8" stroke-linejoin="round" stroke-linecap="round"/>
<polyline points="195.1,384.3 200.8,386.8 207,390.5 213.2,394.2 219.4,396.7 225.6,399.2 231.8,401.2 238,402.2 240.5,401.7" fill="none" stroke="#ffffff" stroke-width="0.5" stroke-opacity="0.6" stroke-linejoin="round" stroke-linecap="round"/>
<polyline points="169.4,221.3 168.2,224.6 170.6,227.6 174.1,229.3 177.6,230.7" fill="none" stroke="#ffffff" stroke-width="0.5" stroke-opacity="0.6" stroke-linejoin="round" stroke-linecap="round"/>
<polyline points="272.2,353.5 274.7,349.7 278.4,347.3 280.9,343.5 283.4,339.8 287.1,337.8 292.1,336.8 297.1,334.8 300.8,336.8 304.5,337.8 308.2,339.3 310.7,342.3 313.2,344.8 312,348.5 308.2,349.7 304.5,353.5 300.8,355.9 297.1,353.5 293.3,354.7 288.4,355.9 283.4,354.7 280.9,357.2 277.2,355.9 274.2,354.7 272.2,353.5" fill="none" stroke="#ffffff" stroke-width="0.7" stroke-opacity="0.8" stroke-linejoin="round" stroke-linecap="round"/>
<polyline points="310.7,342.3 309.5,338.6 314.4,337.8 319.4,336.8 324.4,336.1 329.3,334.8 334.3,333.6 338,331.1 336.8,327.4 340.5,323.7 344.2,321.2 349.2,319.9 354.2,318.7 359.2,317.5 365.4,317.5 370.3,318.7 373.6,321.2 372.8,324.9 374.1,329.9 375.3,333.6 372.8,337.3 370.3,341 367.8,344.8 364.1,347.3 359.2,348.5 354.2,349.2 349.2,349.7 344.2,349.7 340.5,349.2 335.6,347.3 330.6,345.3 325.6,344.3 320.7,344.8 315.7,346.8 312,348.5" fill="none" stroke="#ffffff" stroke-width="0.7" stroke-opacity="0.8" stroke-linejoin="round" stroke-linecap="round"/>
<polyline points="287.3,256.2 288,259.6 286,263 284.6,265.8 283.9,269.2 284.6,272.6 281.2,274.7 278.4,276.1 276,277.4 276.8,280.9 277.7,284.3 276,286.4 273.6,287.7" fill="none" stroke="#ffffff" stroke-width="0.55" stroke-opacity="0.8" stroke-linejoin="round" stroke-linecap="round"/>
<polyline points="273.6,287.7 272.2,285 269.5,282.9 266.1,281.8 262.6,280.9 259.2,281.3 256.5,282.2 253.7,281.8 251,282.9 248.2,284 246.2,285" fill="none" stroke="#ffffff" stroke-width="0.55" stroke-opacity="0.8" stroke-linejoin="round" stroke-linecap="round"/>
<polyline points="273.6,287.7 275,291.2 277,293.9 277.7,297.3 275.7,299.4 274.3,301.5" fill="none" stroke="#ffffff" stroke-width="0.55" stroke-opacity="0.8" stroke-linejoin="round" stroke-linecap="round"/>
<polyline points="246.2,285 246.9,287.7 248.9,289.8 251.7,291.9 254.4,293.9 257.2,296 259.2,298.7 262,300.1 264.4,302.1 266.8,304.2 269.5,306.3 272.2,307.6" fill="none" stroke="#ffffff" stroke-width="0.55" stroke-opacity="0.8" stroke-linejoin="round" stroke-linecap="round"/>
<polyline points="274.3,301.5 272.9,304.2 272.2,307.6 275,308.3 277.7,307.6 279.1,305.6 277.7,302.8 274.3,301.5" fill="none" stroke="#ffffff" stroke-width="0.55" stroke-opacity="0.8" stroke-linejoin="round" stroke-linecap="round"/>
<polyline points="277.7,307.6 280.5,310.4 283.9,312.4 287.3,313.8 290.8,315.9 293.5,318.6 292.7,325.9 290.2,331.7 289,337.6" fill="none" stroke="#ffffff" stroke-width="0.55" stroke-opacity="0.8" stroke-linejoin="round" stroke-linecap="round"/>
<polyline points="301.1,235 303.8,234.3 306.5,235 308,235" fill="none" stroke="#ffffff" stroke-width="0.6" stroke-opacity="0.8" stroke-linejoin="round" stroke-linecap="round"/>
<polyline points="355.6,290.8 360.5,289.6 365.5,292.1 369.2,294.5 374.2,297 377.9,299.5 381.6,298.3 385.4,300.8 387.8,304" fill="none" stroke="#ffffff" stroke-width="0.6" stroke-opacity="0.8" stroke-linejoin="round" stroke-linecap="round"/>
<polyline points="374.8,325 377.5,326.9 380.7,327.6 384.7,326.9 388.6,326.3 391.9,325 395.2,323 399.1,321 403.1,319.7 406.4,316.4 409.6,314.5 413.6,313.8 417.5,315.1" fill="none" stroke="#ffffff" stroke-width="0.7" stroke-opacity="0.8" stroke-linejoin="round" stroke-linecap="round"/>
<polyline points="397.5,366.7 393.6,365.1 388.9,364.3 384.2,364.8 379.5,364.3 374.8,363.8 370.1,364.3 366.2,365.9 366.2,369 367,372.9 368.2,376.4 370.1,380 372.9,383.6 376.4,387.1 380.3,389.9 384.2,392.5 388.1,394.9 392.1,397.3 395.2,398 396.8,400.4 399.1,402.7" fill="none" stroke="#ffffff" stroke-width="0.7" stroke-opacity="0.8" stroke-linejoin="round" stroke-linecap="round"/>
<polyline points="395.2,398 396,394.9 397.5,391.8 399.1,388.6 400.7,386.3" fill="none" stroke="#ffffff" stroke-width="0.7" stroke-opacity="0.8" stroke-linejoin="round" stroke-linecap="round"/>
<polyline points="370,342 370.5,345.3 372.2,348 374.8,349.9 377.5,351.9 380.1,353.2 383.4,354.5 386.6,355.2 389.9,354.5 393.2,353.2 396.5,351.9 399.8,350.6 403.1,349.7 406.4,348.9 409.6,347.3 412.9,345.3 415.6,343.4" fill="none" stroke="#ffffff" stroke-width="0.7" stroke-opacity="0.8" stroke-linejoin="round" stroke-linecap="round"/>
<polyline points="394.4,353.8 396,357.3 397.5,360.4 399.9,362.7 399.1,365.1 397.5,366.7" fill="none" stroke="#ffffff" stroke-width="0.7" stroke-opacity="0.8" stroke-linejoin="round" stroke-linecap="round"/>
<polyline points="395.7,354.7 396.9,358.6 398.8,362.5 400.1,366.5 399.6,370.4 401.2,374.3 402.7,378.2 403.5,381.4 402,383.7 400.1,386.1" fill="none" stroke="#ffffff" stroke-width="0.7" stroke-opacity="0.8" stroke-linejoin="round" stroke-linecap="round"/>
<polyline points="400.1,386.1 403.5,387.6 406.7,389.2 409.8,391.1 412.2,394.7" fill="none" stroke="#ffffff" stroke-width="0.7" stroke-opacity="0.8" stroke-linejoin="round" stroke-linecap="round"/>
<polyline points="413.3,397.1 410.6,398.6 408.2,400.2 406.4,402.5 405.1,404.1" fill="none" stroke="#ffffff" stroke-width="0.7" stroke-opacity="0.8" stroke-linejoin="round" stroke-linecap="round"/>
<polyline points="417.3,401.8 417.6,405.7 418.4,409.6 419.2,412.7 421.1,415.9 423.1,418.2" fill="none" stroke="#ffffff" stroke-width="0.7" stroke-opacity="0.8" stroke-linejoin="round" stroke-linecap="round"/>
<polyline points="427.1,398.6 430.2,397.8 433.3,397.1 435.7,397.8 438,399.4 440.4,401.8 442,404.9 442.4,408" fill="none" stroke="#ffffff" stroke-width="0.7" stroke-opacity="0.8" stroke-linejoin="round" stroke-linecap="round"/>
<polyline points="431.8,365.7 432.5,369.6 434.1,373.5 436.5,376.7 438.8,379.8 439.9,382.9 438.4,386.1 436.8,389.2 435.7,392.4 434.9,395.5 433.3,397.1" fill="none" stroke="#ffffff" stroke-width="0.7" stroke-opacity="0.8" stroke-linejoin="round" stroke-linecap="round"/>
<polyline points="490.9,390.5 486.2,390.5 483,390.5 480.9,392.6 478.8,394.6 477.3,396.2 475.7,397.8 473.6,398.6" fill="none" stroke="#ffffff" stroke-width="0.6" stroke-opacity="0.6" stroke-linejoin="round" stroke-linecap="round"/>
<polyline points="432.2,374.4 438.4,373.9 444.6,373.2" fill="none" stroke="#ffffff" stroke-width="0.5" stroke-opacity="0.5" stroke-linejoin="round" stroke-linecap="round"/>
</g>

<!-- title fragments (descenders of cropped headline) -->
<rect x="400.5" y="0" width="4.4" height="2.2" fill="#111"/>
<rect x="465.6" y="0" width="4.4" height="2.2" fill="#111"/>
<rect x="532.6" y="0" width="4.4" height="2.2" fill="#111"/>

<!-- subtitle -->
<text x="118.2" y="22.2" font-size="19.4" fill="#262626" stroke="#262626" stroke-width="0.2" textLength="103.2" lengthAdjust="spacingAndGlyphs">(in PPS, 2019)</text>

<!-- legend -->
<rect x="456.5" y="37.5" width="190.5" height="88" fill="#000" opacity="0.75" filter="url(#sh)"/>
<rect x="454" y="34.5" width="190" height="87.5" fill="#ffffff"/>
<rect x="459.7" y="38.9" width="32.8" height="21.8" fill="#1f4396"/>
<g fill="#f0d43c"><circle cx="476.1" cy="42.4" r="1.15"/><circle cx="479.8" cy="43.4" r="1.15"/><circle cx="482.5" cy="46.1" r="1.15"/><circle cx="483.5" cy="49.8" r="1.15"/><circle cx="482.5" cy="53.5" r="1.15"/><circle cx="479.8" cy="56.2" r="1.15"/><circle cx="476.1" cy="57.2" r="1.15"/><circle cx="472.4" cy="56.2" r="1.15"/><circle cx="469.7" cy="53.5" r="1.15"/><circle cx="468.7" cy="49.8" r="1.15"/><circle cx="469.7" cy="46.1" r="1.15"/><circle cx="472.4" cy="43.4" r="1.15"/></g>
<rect x="459.7" y="68.2" width="32.8" height="12.6" fill="#4d87ca"/>
<rect x="459.7" y="85.9" width="32.8" height="12.7" fill="#dda1c6"/>
<rect x="459.7" y="103.6" width="32.8" height="13" fill="#c84b9a"/>
<text x="500.7" y="57" font-size="19.8" font-weight="bold" fill="#1a1a1a" stroke="#1a1a1a" stroke-width="0.35" textLength="62.5" lengthAdjust="spacingAndGlyphs">EU=100</text>
<text class="lg" x="500.7" y="79.4" textLength="72.5" lengthAdjust="spacingAndGlyphs">Above EU average</text>
<text class="lg" x="500.7" y="98.6" textLength="134" lengthAdjust="spacingAndGlyphs">Less than 25% below EU average</text>
<text class="lg" x="500.7" y="116.6" textLength="137.5" lengthAdjust="spacingAndGlyphs">More than 25% below EU average</text>
<text class="note" x="460" y="142.4" textLength="163.4" lengthAdjust="spacingAndGlyphs">EU represents the European Union of 27 Member</text>
<text class="note" x="460" y="151.8" textLength="96.3" lengthAdjust="spacingAndGlyphs">States after 1 February 2020.</text>

<!-- country values -->
<g class="n" filter="url(#tb)">
<text x="150.3" y="70" textLength="12.4" lengthAdjust="spacingAndGlyphs">116</text>
<text x="299.9" y="156.5" textLength="12.4" lengthAdjust="spacingAndGlyphs">131</text>
<text x="341.2" y="170.2" textLength="12.4" lengthAdjust="spacingAndGlyphs">109</text>
<text x="407.9" y="118.8" textLength="12.4" lengthAdjust="spacingAndGlyphs">113</text>
<text x="303.4" y="221" textLength="12.4" lengthAdjust="spacingAndGlyphs">116</text>
<text x="419.8" y="175.6" textLength="8.6" lengthAdjust="spacingAndGlyphs">76</text>
<text x="425" y="199.3" textLength="8.6" lengthAdjust="spacingAndGlyphs">71</text>
<text x="417.3" y="222" textLength="8.6" lengthAdjust="spacingAndGlyphs">92</text>
<text x="165.4" y="247.5" textLength="8.6" lengthAdjust="spacingAndGlyphs">95</text>
<text x="212" y="264.9" textLength="12.4" lengthAdjust="spacingAndGlyphs">113</text>
<text x="274.1" y="273.4" textLength="12.4" lengthAdjust="spacingAndGlyphs">114</text>
<text x="262.9" y="293.7" textLength="12.4" lengthAdjust="spacingAndGlyphs">114</text>
<text x="306.3" y="291" textLength="12.4" lengthAdjust="spacingAndGlyphs">122</text>
<text x="296.8" y="308.6" textLength="12.4" lengthAdjust="spacingAndGlyphs">135</text>
<text x="382.5" y="277.7" textLength="8.6" lengthAdjust="spacingAndGlyphs">79</text>
<text x="353.1" y="308.7" textLength="8.6" lengthAdjust="spacingAndGlyphs">85</text>
<text x="391" y="319" textLength="8.6" lengthAdjust="spacingAndGlyphs">69</text>
<text x="352.6" y="337" textLength="12.4" lengthAdjust="spacingAndGlyphs">118</text>
<text x="391.7" y="342.8" textLength="8.6" lengthAdjust="spacingAndGlyphs">67</text>
<text x="242.8" y="349.8" textLength="12.4" lengthAdjust="spacingAndGlyphs">109</text>
<text x="291" y="348.3" textLength="12.4" lengthAdjust="spacingAndGlyphs">124</text>
<text x="355.1" y="359.2" textLength="8.6" lengthAdjust="spacingAndGlyphs">83</text>
<text x="372.8" y="361.2" textLength="8.6" lengthAdjust="spacingAndGlyphs">66</text>
<text x="447.2" y="350.1" textLength="8.6" lengthAdjust="spacingAndGlyphs">79</text>
<text x="386.6" y="383.5" textLength="8.6" lengthAdjust="spacingAndGlyphs">41</text>
<text x="416.6" y="380.4" textLength="8.6" lengthAdjust="spacingAndGlyphs">49</text>
<text x="458.9" y="389.9" textLength="8.6" lengthAdjust="spacingAndGlyphs">58</text>
<text x="401.7" y="397.5" textLength="8.6" lengthAdjust="spacingAndGlyphs">60</text>
<text x="428.5" y="410.5" textLength="8.6" lengthAdjust="spacingAndGlyphs">42</text>
<text x="414.7" y="426.2" textLength="8.6" lengthAdjust="spacingAndGlyphs">39</text>
<text x="435.9" y="440.4" textLength="8.6" lengthAdjust="spacingAndGlyphs">78</text>
<text x="333" y="403.4" textLength="8.6" lengthAdjust="spacingAndGlyphs">99</text>
<text x="123.7" y="418" textLength="8.6" lengthAdjust="spacingAndGlyphs">86</text>
<text x="168.6" y="429" textLength="8.6" lengthAdjust="spacingAndGlyphs">91</text>
<text x="532.8" y="429.6" textLength="8.6" lengthAdjust="spacingAndGlyphs">67</text>
<text x="567.2" y="469.3" textLength="8.6" lengthAdjust="spacingAndGlyphs">95</text>
<text x="381.7" y="491.3" textLength="8.6" lengthAdjust="spacingAndGlyphs">85</text>
</g>
<!-- leader lines -->
<line x1="278.3" y1="305.6" x2="289" y2="305.6" stroke="#222" stroke-width="0.7"/>
<line x1="362.8" y1="492" x2="375.6" y2="489.3" stroke="#333" stroke-width="0.7"/>
<polygon points="362.6,492.1 366.9,490.3 367.3,492.0" fill="#333"/>

<!-- footer (cropped) -->
<text x="108.8" y="513.1" font-size="9.5" fill="#333" textLength="239" lengthAdjust="spacingAndGlyphs">Administrative boundaries: © EuroGeographics © UN - FAO © Turkstat</text>
<rect x="631" y="508.6" width="24.6" height="2" fill="#4f81b5"/>
<rect x="599.6" y="508.8" width="3.3" height="1.5" fill="#9a9a9a"/>
<rect x="623" y="508.8" width="2.8" height="1.5" fill="#9a9a9a"/>
</svg>
</body>
</html>
